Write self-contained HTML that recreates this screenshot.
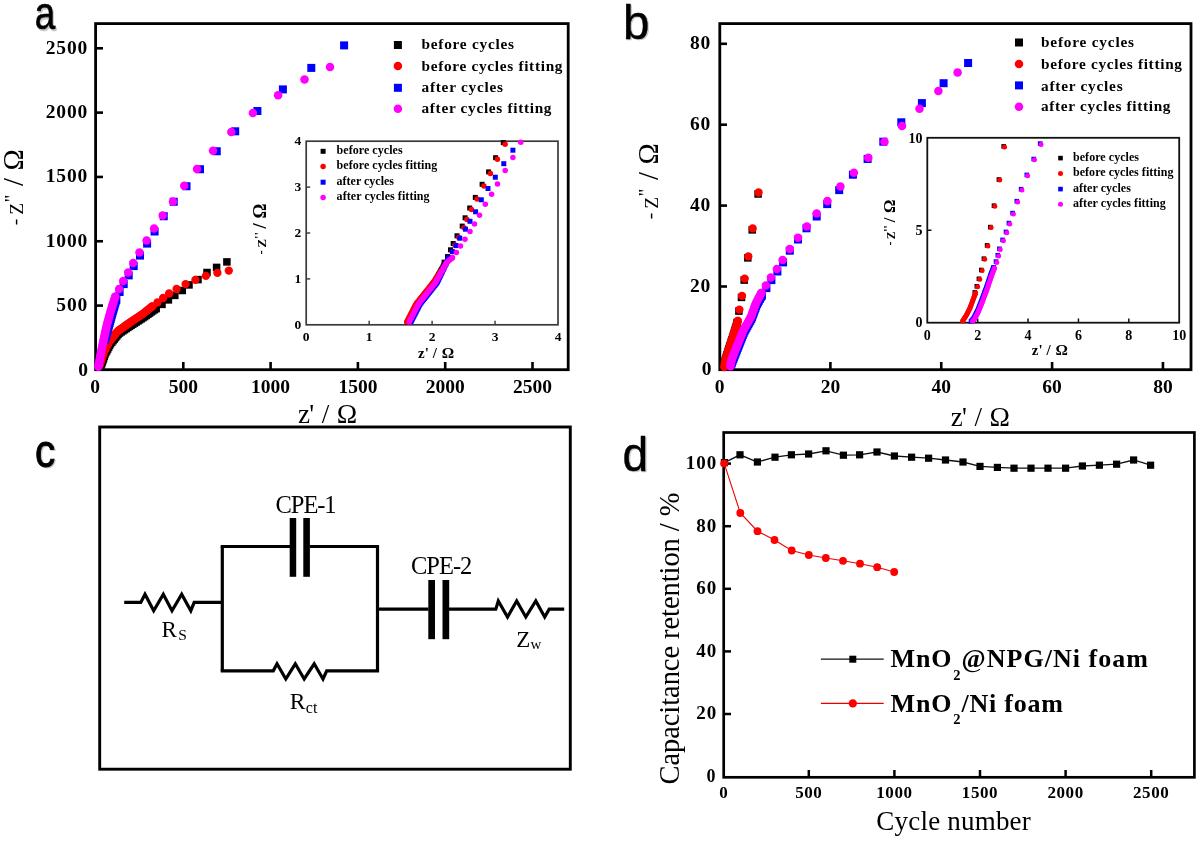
<!DOCTYPE html>
<html><head><meta charset="utf-8"><style>
html,body{margin:0;padding:0;background:#fff;}
svg{display:block;filter:blur(0.35px);}
</style></head><body>
<svg width="1200" height="842" viewBox="0 0 1200 842">
<rect width="1200" height="842" fill="#fff"/>
<rect x="95.6" y="23.6" width="472.6" height="346.09999999999997" fill="none" stroke="#000" stroke-width="2.8"/>
<line x1="183.3" y1="369.7" x2="183.3" y2="362" stroke="#000" stroke-width="2.6" stroke-linecap="butt"/>
<text x="183.3" y="393" font-size="19.5" font-family='"Liberation Serif", serif' font-weight="bold" text-anchor="middle" fill="#000" >500</text>
<line x1="95.6" y1="305.58" x2="103" y2="305.58" stroke="#000" stroke-width="2.6" stroke-linecap="butt"/>
<text x="88" y="311.08" font-size="19.5" font-family='"Liberation Serif", serif' font-weight="bold" text-anchor="end" fill="#000" letter-spacing="0.8">500</text>
<line x1="270.6" y1="369.7" x2="270.6" y2="362" stroke="#000" stroke-width="2.6" stroke-linecap="butt"/>
<text x="270.6" y="393" font-size="19.5" font-family='"Liberation Serif", serif' font-weight="bold" text-anchor="middle" fill="#000" >1000</text>
<line x1="95.6" y1="241.25999999999996" x2="103" y2="241.25999999999996" stroke="#000" stroke-width="2.6" stroke-linecap="butt"/>
<text x="88" y="246.75999999999996" font-size="19.5" font-family='"Liberation Serif", serif' font-weight="bold" text-anchor="end" fill="#000" letter-spacing="0.8">1000</text>
<line x1="357.90000000000003" y1="369.7" x2="357.90000000000003" y2="362" stroke="#000" stroke-width="2.6" stroke-linecap="butt"/>
<text x="357.90000000000003" y="393" font-size="19.5" font-family='"Liberation Serif", serif' font-weight="bold" text-anchor="middle" fill="#000" >1500</text>
<line x1="95.6" y1="176.93999999999997" x2="103" y2="176.93999999999997" stroke="#000" stroke-width="2.6" stroke-linecap="butt"/>
<text x="88" y="182.43999999999997" font-size="19.5" font-family='"Liberation Serif", serif' font-weight="bold" text-anchor="end" fill="#000" letter-spacing="0.8">1500</text>
<line x1="445.2" y1="369.7" x2="445.2" y2="362" stroke="#000" stroke-width="2.6" stroke-linecap="butt"/>
<text x="445.2" y="393" font-size="19.5" font-family='"Liberation Serif", serif' font-weight="bold" text-anchor="middle" fill="#000" >2000</text>
<line x1="95.6" y1="112.61999999999995" x2="103" y2="112.61999999999995" stroke="#000" stroke-width="2.6" stroke-linecap="butt"/>
<text x="88" y="118.11999999999995" font-size="19.5" font-family='"Liberation Serif", serif' font-weight="bold" text-anchor="end" fill="#000" letter-spacing="0.8">2000</text>
<line x1="532.5" y1="369.7" x2="532.5" y2="362" stroke="#000" stroke-width="2.6" stroke-linecap="butt"/>
<text x="532.5" y="393" font-size="19.5" font-family='"Liberation Serif", serif' font-weight="bold" text-anchor="middle" fill="#000" >2500</text>
<line x1="95.6" y1="48.299999999999955" x2="103" y2="48.299999999999955" stroke="#000" stroke-width="2.6" stroke-linecap="butt"/>
<text x="88" y="53.799999999999955" font-size="19.5" font-family='"Liberation Serif", serif' font-weight="bold" text-anchor="end" fill="#000" letter-spacing="0.8">2500</text>
<text x="95.0" y="393" font-size="19.5" font-family='"Liberation Serif", serif' font-weight="bold" text-anchor="middle" fill="#000" >0</text>
<text x="88" y="376.2" font-size="19.5" font-family='"Liberation Serif", serif' font-weight="bold" text-anchor="end" fill="#000" >0</text>
<text x="298" y="423" font-size="27" font-family='"Liberation Serif", serif' text-anchor="start" fill="#000" >z</text>
<text x="309.2" y="423" font-size="27" font-family='"Liberation Serif", serif' text-anchor="start" fill="#000" >'</text>
<text x="321.8" y="423" font-size="27" font-family='"Liberation Serif", serif' text-anchor="start" fill="#000" >/</text>
<text x="336.8" y="423" font-size="27.5" font-family='"Liberation Serif", serif' text-anchor="start" fill="#000" >Ω</text>
<g transform="translate(23.2,224.3) rotate(-90) scale(1.0)">
<text x="-1" y="-2" font-size="19.5" font-family='"Liberation Serif", serif' text-anchor="start" fill="#000" >-</text>
<text x="9.6" y="0" font-size="19.5" font-family='"Liberation Serif", serif' text-anchor="start" fill="#000" >Z</text>
<text x="22.4" y="-5.5" font-size="19.5" font-family='"Liberation Serif", serif' text-anchor="start" fill="#000" >''</text>
<text x="38.4" y="0" font-size="28.5" font-family='"Liberation Serif", serif' text-anchor="start" fill="#000" >/</text>
<text x="53.9" y="0" font-size="28.5" font-family='"Liberation Serif", serif' text-anchor="start" fill="#000" >Ω</text>
</g>
<rect x="223.15" y="258.15" width="7.5" height="7.5" fill="#000"/>
<rect x="212.85" y="263.65" width="7.5" height="7.5" fill="#000"/>
<rect x="203.25" y="268.75" width="7.5" height="7.5" fill="#000"/>
<rect x="194.25" y="275.85" width="7.5" height="7.5" fill="#000"/>
<rect x="185.25" y="281.15" width="7.5" height="7.5" fill="#000"/>
<rect x="178.55" y="286.75" width="7.5" height="7.5" fill="#000"/>
<rect x="171.05" y="291.65" width="7.5" height="7.5" fill="#000"/>
<rect x="164.65" y="296.15" width="7.5" height="7.5" fill="#000"/>
<rect x="158.25" y="300.65" width="7.5" height="7.5" fill="#000"/>
<rect x="152.25" y="304.75" width="7.5" height="7.5" fill="#000"/>
<rect x="152.25" y="304.75" width="7.5" height="7.5" fill="#000"/>
<rect x="150.62" y="305.91" width="7.5" height="7.5" fill="#000"/>
<rect x="148.99" y="307.06" width="7.5" height="7.5" fill="#000"/>
<rect x="147.35" y="308.22" width="7.5" height="7.5" fill="#000"/>
<rect x="145.72" y="309.37" width="7.5" height="7.5" fill="#000"/>
<rect x="144.09" y="310.53" width="7.5" height="7.5" fill="#000"/>
<rect x="142.46" y="311.69" width="7.5" height="7.5" fill="#000"/>
<rect x="140.83" y="312.84" width="7.5" height="7.5" fill="#000"/>
<rect x="139.16" y="313.95" width="7.5" height="7.5" fill="#000"/>
<rect x="137.48" y="315.03" width="7.5" height="7.5" fill="#000"/>
<rect x="135.79" y="316.10" width="7.5" height="7.5" fill="#000"/>
<rect x="134.11" y="317.18" width="7.5" height="7.5" fill="#000"/>
<rect x="132.42" y="318.26" width="7.5" height="7.5" fill="#000"/>
<rect x="130.74" y="319.34" width="7.5" height="7.5" fill="#000"/>
<rect x="129.05" y="320.42" width="7.5" height="7.5" fill="#000"/>
<rect x="127.37" y="321.50" width="7.5" height="7.5" fill="#000"/>
<rect x="125.71" y="322.61" width="7.5" height="7.5" fill="#000"/>
<rect x="124.05" y="323.73" width="7.5" height="7.5" fill="#000"/>
<rect x="122.39" y="324.84" width="7.5" height="7.5" fill="#000"/>
<rect x="120.72" y="325.95" width="7.5" height="7.5" fill="#000"/>
<rect x="119.06" y="327.06" width="7.5" height="7.5" fill="#000"/>
<rect x="117.40" y="328.18" width="7.5" height="7.5" fill="#000"/>
<rect x="115.74" y="329.29" width="7.5" height="7.5" fill="#000"/>
<rect x="114.31" y="330.66" width="7.5" height="7.5" fill="#000"/>
<rect x="113.05" y="332.22" width="7.5" height="7.5" fill="#000"/>
<rect x="111.80" y="333.77" width="7.5" height="7.5" fill="#000"/>
<rect x="110.54" y="335.32" width="7.5" height="7.5" fill="#000"/>
<rect x="109.28" y="336.88" width="7.5" height="7.5" fill="#000"/>
<rect x="108.02" y="338.43" width="7.5" height="7.5" fill="#000"/>
<rect x="106.76" y="339.99" width="7.5" height="7.5" fill="#000"/>
<rect x="105.77" y="341.72" width="7.5" height="7.5" fill="#000"/>
<rect x="104.83" y="343.49" width="7.5" height="7.5" fill="#000"/>
<rect x="103.90" y="345.25" width="7.5" height="7.5" fill="#000"/>
<rect x="102.96" y="347.02" width="7.5" height="7.5" fill="#000"/>
<rect x="102.03" y="348.79" width="7.5" height="7.5" fill="#000"/>
<rect x="101.14" y="350.58" width="7.5" height="7.5" fill="#000"/>
<rect x="100.51" y="352.47" width="7.5" height="7.5" fill="#000"/>
<rect x="99.88" y="354.37" width="7.5" height="7.5" fill="#000"/>
<rect x="99.24" y="356.27" width="7.5" height="7.5" fill="#000"/>
<rect x="98.61" y="358.17" width="7.5" height="7.5" fill="#000"/>
<rect x="97.91" y="360.04" width="7.5" height="7.5" fill="#000"/>
<rect x="97.12" y="361.88" width="7.5" height="7.5" fill="#000"/>
<circle cx="228.80" cy="270.60" r="4.15" fill="#ff0000"/>
<circle cx="217.40" cy="272.90" r="4.15" fill="#ff0000"/>
<circle cx="205.90" cy="275.90" r="4.15" fill="#ff0000"/>
<circle cx="195.40" cy="279.90" r="4.15" fill="#ff0000"/>
<circle cx="185.60" cy="284.10" r="4.15" fill="#ff0000"/>
<circle cx="176.60" cy="289.00" r="4.15" fill="#ff0000"/>
<circle cx="169.10" cy="293.50" r="4.15" fill="#ff0000"/>
<circle cx="163.10" cy="298.00" r="4.15" fill="#ff0000"/>
<circle cx="157.50" cy="302.50" r="4.15" fill="#ff0000"/>
<circle cx="152.30" cy="306.30" r="4.15" fill="#ff0000"/>
<circle cx="152.30" cy="306.30" r="4.15" fill="#ff0000"/>
<circle cx="150.89" cy="307.42" r="4.15" fill="#ff0000"/>
<circle cx="149.48" cy="308.54" r="4.15" fill="#ff0000"/>
<circle cx="148.08" cy="309.66" r="4.15" fill="#ff0000"/>
<circle cx="146.67" cy="310.78" r="4.15" fill="#ff0000"/>
<circle cx="145.26" cy="311.91" r="4.15" fill="#ff0000"/>
<circle cx="143.85" cy="313.03" r="4.15" fill="#ff0000"/>
<circle cx="142.44" cy="314.15" r="4.15" fill="#ff0000"/>
<circle cx="140.97" cy="315.18" r="4.15" fill="#ff0000"/>
<circle cx="139.48" cy="316.18" r="4.15" fill="#ff0000"/>
<circle cx="137.98" cy="317.18" r="4.15" fill="#ff0000"/>
<circle cx="136.48" cy="318.18" r="4.15" fill="#ff0000"/>
<circle cx="134.98" cy="319.18" r="4.15" fill="#ff0000"/>
<circle cx="133.48" cy="320.18" r="4.15" fill="#ff0000"/>
<circle cx="131.99" cy="321.18" r="4.15" fill="#ff0000"/>
<circle cx="130.49" cy="322.17" r="4.15" fill="#ff0000"/>
<circle cx="129.01" cy="323.20" r="4.15" fill="#ff0000"/>
<circle cx="127.53" cy="324.23" r="4.15" fill="#ff0000"/>
<circle cx="126.06" cy="325.26" r="4.15" fill="#ff0000"/>
<circle cx="124.59" cy="326.30" r="4.15" fill="#ff0000"/>
<circle cx="123.11" cy="327.33" r="4.15" fill="#ff0000"/>
<circle cx="121.64" cy="328.37" r="4.15" fill="#ff0000"/>
<circle cx="120.17" cy="329.40" r="4.15" fill="#ff0000"/>
<circle cx="118.69" cy="330.43" r="4.15" fill="#ff0000"/>
<circle cx="117.31" cy="331.56" r="4.15" fill="#ff0000"/>
<circle cx="116.19" cy="332.97" r="4.15" fill="#ff0000"/>
<circle cx="115.07" cy="334.38" r="4.15" fill="#ff0000"/>
<circle cx="113.95" cy="335.79" r="4.15" fill="#ff0000"/>
<circle cx="112.83" cy="337.20" r="4.15" fill="#ff0000"/>
<circle cx="111.71" cy="338.61" r="4.15" fill="#ff0000"/>
<circle cx="110.59" cy="340.02" r="4.15" fill="#ff0000"/>
<circle cx="109.47" cy="341.43" r="4.15" fill="#ff0000"/>
<circle cx="108.56" cy="342.97" r="4.15" fill="#ff0000"/>
<circle cx="107.75" cy="344.58" r="4.15" fill="#ff0000"/>
<circle cx="106.94" cy="346.18" r="4.15" fill="#ff0000"/>
<circle cx="106.13" cy="347.79" r="4.15" fill="#ff0000"/>
<circle cx="105.31" cy="349.40" r="4.15" fill="#ff0000"/>
<circle cx="104.50" cy="351.00" r="4.15" fill="#ff0000"/>
<circle cx="103.78" cy="352.65" r="4.15" fill="#ff0000"/>
<circle cx="103.21" cy="354.36" r="4.15" fill="#ff0000"/>
<circle cx="102.65" cy="356.06" r="4.15" fill="#ff0000"/>
<circle cx="102.08" cy="357.77" r="4.15" fill="#ff0000"/>
<circle cx="101.51" cy="359.48" r="4.15" fill="#ff0000"/>
<circle cx="100.94" cy="361.19" r="4.15" fill="#ff0000"/>
<circle cx="100.43" cy="362.91" r="4.15" fill="#ff0000"/>
<circle cx="99.91" cy="364.64" r="4.15" fill="#ff0000"/>
<rect x="340.10" y="41.40" width="8" height="8" fill="#0000ff"/>
<rect x="307.30" y="63.90" width="8" height="8" fill="#0000ff"/>
<rect x="278.90" y="85.40" width="8" height="8" fill="#0000ff"/>
<rect x="253.40" y="107.00" width="8" height="8" fill="#0000ff"/>
<rect x="231.20" y="127.30" width="8" height="8" fill="#0000ff"/>
<rect x="212.75" y="147.25" width="8" height="8" fill="#0000ff"/>
<rect x="196.00" y="165.25" width="8" height="8" fill="#0000ff"/>
<rect x="182.50" y="182.25" width="8" height="8" fill="#0000ff"/>
<rect x="169.75" y="197.75" width="8" height="8" fill="#0000ff"/>
<rect x="159.75" y="212.25" width="8" height="8" fill="#0000ff"/>
<rect x="150.60" y="227.50" width="8" height="8" fill="#0000ff"/>
<rect x="143.10" y="239.60" width="8" height="8" fill="#0000ff"/>
<rect x="136.00" y="251.60" width="8" height="8" fill="#0000ff"/>
<rect x="129.70" y="262.10" width="8" height="8" fill="#0000ff"/>
<rect x="124.70" y="271.40" width="8" height="8" fill="#0000ff"/>
<rect x="119.70" y="280.10" width="8" height="8" fill="#0000ff"/>
<rect x="115.60" y="288.00" width="8" height="8" fill="#0000ff"/>
<rect x="112.20" y="295.70" width="8" height="8" fill="#0000ff"/>
<rect x="112.20" y="295.70" width="8" height="8" fill="#0000ff"/>
<rect x="111.64" y="297.62" width="8" height="8" fill="#0000ff"/>
<rect x="111.07" y="299.54" width="8" height="8" fill="#0000ff"/>
<rect x="110.51" y="301.46" width="8" height="8" fill="#0000ff"/>
<rect x="109.95" y="303.38" width="8" height="8" fill="#0000ff"/>
<rect x="109.39" y="305.30" width="8" height="8" fill="#0000ff"/>
<rect x="108.82" y="307.22" width="8" height="8" fill="#0000ff"/>
<rect x="108.26" y="309.14" width="8" height="8" fill="#0000ff"/>
<rect x="107.74" y="311.06" width="8" height="8" fill="#0000ff"/>
<rect x="107.21" y="312.99" width="8" height="8" fill="#0000ff"/>
<rect x="106.68" y="314.92" width="8" height="8" fill="#0000ff"/>
<rect x="106.15" y="316.85" width="8" height="8" fill="#0000ff"/>
<rect x="105.63" y="318.78" width="8" height="8" fill="#0000ff"/>
<rect x="105.10" y="320.71" width="8" height="8" fill="#0000ff"/>
<rect x="104.57" y="322.64" width="8" height="8" fill="#0000ff"/>
<rect x="104.04" y="324.57" width="8" height="8" fill="#0000ff"/>
<rect x="103.49" y="326.49" width="8" height="8" fill="#0000ff"/>
<rect x="102.94" y="328.41" width="8" height="8" fill="#0000ff"/>
<rect x="102.40" y="330.34" width="8" height="8" fill="#0000ff"/>
<rect x="101.85" y="332.26" width="8" height="8" fill="#0000ff"/>
<rect x="101.30" y="334.19" width="8" height="8" fill="#0000ff"/>
<rect x="100.75" y="336.11" width="8" height="8" fill="#0000ff"/>
<circle cx="330.00" cy="67.00" r="4.25" fill="#ff00ff"/>
<circle cx="304.50" cy="79.60" r="4.25" fill="#ff00ff"/>
<circle cx="278.10" cy="95.30" r="4.25" fill="#ff00ff"/>
<circle cx="252.90" cy="113.00" r="4.25" fill="#ff00ff"/>
<circle cx="231.30" cy="132.00" r="4.25" fill="#ff00ff"/>
<circle cx="213.00" cy="150.75" r="4.25" fill="#ff00ff"/>
<circle cx="197.00" cy="169.00" r="4.25" fill="#ff00ff"/>
<circle cx="184.25" cy="185.75" r="4.25" fill="#ff00ff"/>
<circle cx="173.00" cy="201.50" r="4.25" fill="#ff00ff"/>
<circle cx="162.70" cy="215.40" r="4.25" fill="#ff00ff"/>
<circle cx="154.10" cy="228.50" r="4.25" fill="#ff00ff"/>
<circle cx="146.60" cy="240.60" r="4.25" fill="#ff00ff"/>
<circle cx="139.50" cy="252.60" r="4.25" fill="#ff00ff"/>
<circle cx="133.20" cy="263.10" r="4.25" fill="#ff00ff"/>
<circle cx="128.20" cy="272.40" r="4.25" fill="#ff00ff"/>
<circle cx="123.20" cy="281.10" r="4.25" fill="#ff00ff"/>
<circle cx="119.10" cy="289.00" r="4.25" fill="#ff00ff"/>
<circle cx="115.20" cy="296.70" r="4.25" fill="#ff00ff"/>
<circle cx="115.20" cy="296.70" r="4.25" fill="#ff00ff"/>
<circle cx="114.60" cy="298.61" r="4.25" fill="#ff00ff"/>
<circle cx="114.00" cy="300.51" r="4.25" fill="#ff00ff"/>
<circle cx="113.39" cy="302.42" r="4.25" fill="#ff00ff"/>
<circle cx="112.79" cy="304.33" r="4.25" fill="#ff00ff"/>
<circle cx="112.19" cy="306.24" r="4.25" fill="#ff00ff"/>
<circle cx="111.59" cy="308.14" r="4.25" fill="#ff00ff"/>
<circle cx="110.99" cy="310.05" r="4.25" fill="#ff00ff"/>
<circle cx="110.45" cy="311.98" r="4.25" fill="#ff00ff"/>
<circle cx="109.92" cy="313.91" r="4.25" fill="#ff00ff"/>
<circle cx="109.39" cy="315.83" r="4.25" fill="#ff00ff"/>
<circle cx="108.86" cy="317.76" r="4.25" fill="#ff00ff"/>
<circle cx="108.33" cy="319.69" r="4.25" fill="#ff00ff"/>
<circle cx="107.80" cy="321.62" r="4.25" fill="#ff00ff"/>
<circle cx="107.27" cy="323.55" r="4.25" fill="#ff00ff"/>
<circle cx="106.73" cy="325.48" r="4.25" fill="#ff00ff"/>
<circle cx="106.31" cy="327.43" r="4.25" fill="#ff00ff"/>
<circle cx="105.89" cy="329.39" r="4.25" fill="#ff00ff"/>
<circle cx="105.47" cy="331.34" r="4.25" fill="#ff00ff"/>
<circle cx="105.05" cy="333.30" r="4.25" fill="#ff00ff"/>
<circle cx="104.63" cy="335.25" r="4.25" fill="#ff00ff"/>
<circle cx="104.22" cy="337.21" r="4.25" fill="#ff00ff"/>
<circle cx="103.80" cy="339.16" r="4.25" fill="#ff00ff"/>
<circle cx="103.38" cy="341.12" r="4.25" fill="#ff00ff"/>
<circle cx="102.96" cy="343.08" r="4.25" fill="#ff00ff"/>
<circle cx="102.54" cy="345.03" r="4.25" fill="#ff00ff"/>
<circle cx="102.12" cy="346.99" r="4.25" fill="#ff00ff"/>
<circle cx="101.70" cy="348.94" r="4.25" fill="#ff00ff"/>
<circle cx="101.29" cy="350.90" r="4.25" fill="#ff00ff"/>
<circle cx="100.92" cy="352.86" r="4.25" fill="#ff00ff"/>
<circle cx="100.56" cy="354.83" r="4.25" fill="#ff00ff"/>
<circle cx="100.20" cy="356.80" r="4.25" fill="#ff00ff"/>
<circle cx="99.84" cy="358.77" r="4.25" fill="#ff00ff"/>
<circle cx="99.48" cy="360.73" r="4.25" fill="#ff00ff"/>
<circle cx="99.13" cy="362.70" r="4.25" fill="#ff00ff"/>
<circle cx="98.77" cy="364.67" r="4.25" fill="#ff00ff"/>
<circle cx="98.37" cy="366.63" r="4.25" fill="#ff00ff"/>
<rect x="393.90" y="41.00" width="8" height="8" fill="#000"/>
<text x="421.5" y="49.4" font-size="15.3" font-family='"Liberation Serif", serif' font-weight="bold" text-anchor="start" fill="#000" textLength="92.5" lengthAdjust="spacing" >before cycles</text>
<circle cx="397.90" cy="66.10" r="4.25" fill="#ff0000"/>
<text x="421.5" y="70.5" font-size="15.3" font-family='"Liberation Serif", serif' font-weight="bold" text-anchor="start" fill="#000" textLength="141" lengthAdjust="spacing" >before cycles fitting</text>
<rect x="393.90" y="83.80" width="8" height="8" fill="#0000ff"/>
<text x="421.5" y="92.1" font-size="15.3" font-family='"Liberation Serif", serif' font-weight="bold" text-anchor="start" fill="#000" textLength="81.5" lengthAdjust="spacing" >after cycles</text>
<circle cx="397.90" cy="108.70" r="4.25" fill="#ff00ff"/>
<text x="421.5" y="113.2" font-size="15.3" font-family='"Liberation Serif", serif' font-weight="bold" text-anchor="start" fill="#000" textLength="130" lengthAdjust="spacing" >after cycles fitting</text>
<rect x="306.2" y="141.2" width="251.8" height="183.6" fill="#fff" stroke="#3a3a3a" stroke-width="1.7"/>
<line x1="369.15" y1="324.8" x2="369.15" y2="320.8" stroke="#333" stroke-width="1.4" stroke-linecap="butt"/>
<line x1="306.2" y1="278.90000000000003" x2="310.2" y2="278.90000000000003" stroke="#333" stroke-width="1.4" stroke-linecap="butt"/>
<line x1="432.1" y1="324.8" x2="432.1" y2="320.8" stroke="#333" stroke-width="1.4" stroke-linecap="butt"/>
<line x1="306.2" y1="233.0" x2="310.2" y2="233.0" stroke="#333" stroke-width="1.4" stroke-linecap="butt"/>
<line x1="495.05" y1="324.8" x2="495.05" y2="320.8" stroke="#333" stroke-width="1.4" stroke-linecap="butt"/>
<line x1="306.2" y1="187.10000000000002" x2="310.2" y2="187.10000000000002" stroke="#333" stroke-width="1.4" stroke-linecap="butt"/>
<text x="306.2" y="341.3" font-size="13.5" font-family='"Liberation Serif", serif' font-weight="bold" text-anchor="middle" fill="#000" >0</text>
<text x="301.2" y="329.0" font-size="13.5" font-family='"Liberation Serif", serif' font-weight="bold" text-anchor="end" fill="#000" >0</text>
<text x="369.15" y="341.3" font-size="13.5" font-family='"Liberation Serif", serif' font-weight="bold" text-anchor="middle" fill="#000" >1</text>
<text x="301.2" y="283.1" font-size="13.5" font-family='"Liberation Serif", serif' font-weight="bold" text-anchor="end" fill="#000" >1</text>
<text x="432.1" y="341.3" font-size="13.5" font-family='"Liberation Serif", serif' font-weight="bold" text-anchor="middle" fill="#000" >2</text>
<text x="301.2" y="237.2" font-size="13.5" font-family='"Liberation Serif", serif' font-weight="bold" text-anchor="end" fill="#000" >2</text>
<text x="495.05" y="341.3" font-size="13.5" font-family='"Liberation Serif", serif' font-weight="bold" text-anchor="middle" fill="#000" >3</text>
<text x="301.2" y="191.3" font-size="13.5" font-family='"Liberation Serif", serif' font-weight="bold" text-anchor="end" fill="#000" >3</text>
<text x="558.0" y="341.3" font-size="13.5" font-family='"Liberation Serif", serif' font-weight="bold" text-anchor="middle" fill="#000" >4</text>
<text x="301.2" y="145.4" font-size="13.5" font-family='"Liberation Serif", serif' font-weight="bold" text-anchor="end" fill="#000" >4</text>
<text x="418" y="358.2" font-size="15" font-family='"Liberation Serif", serif' font-weight="bold" text-anchor="start" fill="#000" >z</text>
<text x="424.8" y="358.2" font-size="15" font-family='"Liberation Serif", serif' font-weight="bold" text-anchor="start" fill="#000" >'</text>
<text x="432.8" y="358.2" font-size="15" font-family='"Liberation Serif", serif' font-weight="bold" text-anchor="start" fill="#000" >/</text>
<text x="441.8" y="358.2" font-size="15.5" font-family='"Liberation Serif", serif' font-weight="bold" text-anchor="start" fill="#000" >Ω</text>
<g transform="translate(266.2,253.8) rotate(-90) scale(0.656)">
<text x="-1" y="-2" font-size="19.5" font-family='"Liberation Serif", serif' font-weight="bold" text-anchor="start" fill="#000" >-</text>
<text x="9.6" y="0" font-size="19.5" font-family='"Liberation Serif", serif' font-weight="bold" text-anchor="start" fill="#000" >Z</text>
<text x="22.4" y="-5.5" font-size="19.5" font-family='"Liberation Serif", serif' font-weight="bold" text-anchor="start" fill="#000" >''</text>
<text x="38.4" y="0" font-size="28.5" font-family='"Liberation Serif", serif' font-weight="bold" text-anchor="start" fill="#000" >/</text>
<text x="53.9" y="0" font-size="28.5" font-family='"Liberation Serif", serif' font-weight="bold" text-anchor="start" fill="#000" >Ω</text>
</g>
<rect x="500.80" y="140.10" width="5" height="5" fill="#000"/>
<rect x="493.10" y="155.20" width="5" height="5" fill="#000"/>
<rect x="486.10" y="169.40" width="5" height="5" fill="#000"/>
<rect x="479.60" y="181.80" width="5" height="5" fill="#000"/>
<rect x="472.80" y="194.90" width="5" height="5" fill="#000"/>
<rect x="467.20" y="205.50" width="5" height="5" fill="#000"/>
<rect x="462.60" y="215.30" width="5" height="5" fill="#000"/>
<rect x="459.70" y="223.60" width="5" height="5" fill="#000"/>
<rect x="454.50" y="233.30" width="5" height="5" fill="#000"/>
<rect x="450.70" y="241.00" width="5" height="5" fill="#000"/>
<rect x="448.00" y="247.30" width="5" height="5" fill="#000"/>
<rect x="445.00" y="254.10" width="5" height="5" fill="#000"/>
<rect x="441.60" y="259.70" width="5" height="5" fill="#000"/>
<rect x="442.60" y="260.50" width="5" height="5" fill="#000"/>
<rect x="441.86" y="261.81" width="5" height="5" fill="#000"/>
<rect x="441.13" y="263.11" width="5" height="5" fill="#000"/>
<rect x="440.39" y="264.42" width="5" height="5" fill="#000"/>
<rect x="439.65" y="265.73" width="5" height="5" fill="#000"/>
<rect x="438.92" y="267.03" width="5" height="5" fill="#000"/>
<rect x="438.18" y="268.34" width="5" height="5" fill="#000"/>
<rect x="437.45" y="269.65" width="5" height="5" fill="#000"/>
<rect x="436.71" y="270.95" width="5" height="5" fill="#000"/>
<rect x="435.97" y="272.26" width="5" height="5" fill="#000"/>
<rect x="435.24" y="273.57" width="5" height="5" fill="#000"/>
<rect x="434.50" y="274.88" width="5" height="5" fill="#000"/>
<rect x="433.76" y="276.18" width="5" height="5" fill="#000"/>
<rect x="433.03" y="277.49" width="5" height="5" fill="#000"/>
<rect x="432.29" y="278.80" width="5" height="5" fill="#000"/>
<rect x="431.55" y="280.10" width="5" height="5" fill="#000"/>
<rect x="430.63" y="281.28" width="5" height="5" fill="#000"/>
<rect x="429.70" y="282.46" width="5" height="5" fill="#000"/>
<rect x="428.76" y="283.63" width="5" height="5" fill="#000"/>
<rect x="427.83" y="284.80" width="5" height="5" fill="#000"/>
<rect x="426.89" y="285.97" width="5" height="5" fill="#000"/>
<rect x="425.96" y="287.15" width="5" height="5" fill="#000"/>
<rect x="425.02" y="288.32" width="5" height="5" fill="#000"/>
<rect x="424.08" y="289.49" width="5" height="5" fill="#000"/>
<rect x="423.15" y="290.66" width="5" height="5" fill="#000"/>
<rect x="422.21" y="291.84" width="5" height="5" fill="#000"/>
<rect x="421.28" y="293.01" width="5" height="5" fill="#000"/>
<rect x="420.34" y="294.18" width="5" height="5" fill="#000"/>
<rect x="419.41" y="295.35" width="5" height="5" fill="#000"/>
<rect x="418.47" y="296.53" width="5" height="5" fill="#000"/>
<rect x="417.53" y="297.70" width="5" height="5" fill="#000"/>
<rect x="416.60" y="298.87" width="5" height="5" fill="#000"/>
<rect x="415.66" y="300.04" width="5" height="5" fill="#000"/>
<rect x="414.73" y="301.22" width="5" height="5" fill="#000"/>
<rect x="413.98" y="302.51" width="5" height="5" fill="#000"/>
<rect x="413.30" y="303.84" width="5" height="5" fill="#000"/>
<rect x="412.61" y="305.18" width="5" height="5" fill="#000"/>
<rect x="411.93" y="306.51" width="5" height="5" fill="#000"/>
<rect x="411.24" y="307.85" width="5" height="5" fill="#000"/>
<rect x="410.56" y="309.18" width="5" height="5" fill="#000"/>
<rect x="409.87" y="310.52" width="5" height="5" fill="#000"/>
<rect x="409.18" y="311.85" width="5" height="5" fill="#000"/>
<rect x="408.50" y="313.19" width="5" height="5" fill="#000"/>
<rect x="407.81" y="314.52" width="5" height="5" fill="#000"/>
<rect x="407.13" y="315.85" width="5" height="5" fill="#000"/>
<rect x="406.44" y="317.19" width="5" height="5" fill="#000"/>
<rect x="405.76" y="318.52" width="5" height="5" fill="#000"/>
<rect x="405.07" y="319.86" width="5" height="5" fill="#000"/>
<circle cx="505.10" cy="144.20" r="2.75" fill="#ff0000"/>
<circle cx="497.40" cy="159.30" r="2.75" fill="#ff0000"/>
<circle cx="490.40" cy="173.50" r="2.75" fill="#ff0000"/>
<circle cx="483.90" cy="185.90" r="2.75" fill="#ff0000"/>
<circle cx="477.10" cy="199.00" r="2.75" fill="#ff0000"/>
<circle cx="471.50" cy="209.60" r="2.75" fill="#ff0000"/>
<circle cx="466.90" cy="219.40" r="2.75" fill="#ff0000"/>
<circle cx="464.00" cy="227.70" r="2.75" fill="#ff0000"/>
<circle cx="458.80" cy="237.40" r="2.75" fill="#ff0000"/>
<circle cx="455.00" cy="245.10" r="2.75" fill="#ff0000"/>
<circle cx="452.30" cy="251.40" r="2.75" fill="#ff0000"/>
<circle cx="449.30" cy="258.20" r="2.75" fill="#ff0000"/>
<circle cx="445.90" cy="263.80" r="2.75" fill="#ff0000"/>
<circle cx="445.90" cy="263.80" r="2.75" fill="#ff0000"/>
<circle cx="445.05" cy="265.04" r="2.75" fill="#ff0000"/>
<circle cx="444.21" cy="266.28" r="2.75" fill="#ff0000"/>
<circle cx="443.36" cy="267.52" r="2.75" fill="#ff0000"/>
<circle cx="442.52" cy="268.76" r="2.75" fill="#ff0000"/>
<circle cx="441.67" cy="269.99" r="2.75" fill="#ff0000"/>
<circle cx="440.83" cy="271.23" r="2.75" fill="#ff0000"/>
<circle cx="439.98" cy="272.47" r="2.75" fill="#ff0000"/>
<circle cx="439.14" cy="273.71" r="2.75" fill="#ff0000"/>
<circle cx="438.29" cy="274.95" r="2.75" fill="#ff0000"/>
<circle cx="437.44" cy="276.19" r="2.75" fill="#ff0000"/>
<circle cx="436.60" cy="277.43" r="2.75" fill="#ff0000"/>
<circle cx="435.75" cy="278.67" r="2.75" fill="#ff0000"/>
<circle cx="434.91" cy="279.91" r="2.75" fill="#ff0000"/>
<circle cx="434.06" cy="281.14" r="2.75" fill="#ff0000"/>
<circle cx="433.22" cy="282.38" r="2.75" fill="#ff0000"/>
<circle cx="432.30" cy="283.57" r="2.75" fill="#ff0000"/>
<circle cx="431.37" cy="284.75" r="2.75" fill="#ff0000"/>
<circle cx="430.43" cy="285.92" r="2.75" fill="#ff0000"/>
<circle cx="429.50" cy="287.09" r="2.75" fill="#ff0000"/>
<circle cx="428.56" cy="288.26" r="2.75" fill="#ff0000"/>
<circle cx="427.62" cy="289.44" r="2.75" fill="#ff0000"/>
<circle cx="426.69" cy="290.61" r="2.75" fill="#ff0000"/>
<circle cx="425.75" cy="291.78" r="2.75" fill="#ff0000"/>
<circle cx="424.82" cy="292.95" r="2.75" fill="#ff0000"/>
<circle cx="423.88" cy="294.12" r="2.75" fill="#ff0000"/>
<circle cx="422.95" cy="295.30" r="2.75" fill="#ff0000"/>
<circle cx="422.01" cy="296.47" r="2.75" fill="#ff0000"/>
<circle cx="421.07" cy="297.64" r="2.75" fill="#ff0000"/>
<circle cx="420.14" cy="298.81" r="2.75" fill="#ff0000"/>
<circle cx="419.20" cy="299.99" r="2.75" fill="#ff0000"/>
<circle cx="418.27" cy="301.16" r="2.75" fill="#ff0000"/>
<circle cx="417.33" cy="302.33" r="2.75" fill="#ff0000"/>
<circle cx="416.40" cy="303.50" r="2.75" fill="#ff0000"/>
<circle cx="415.60" cy="304.77" r="2.75" fill="#ff0000"/>
<circle cx="414.92" cy="306.10" r="2.75" fill="#ff0000"/>
<circle cx="414.23" cy="307.44" r="2.75" fill="#ff0000"/>
<circle cx="413.55" cy="308.77" r="2.75" fill="#ff0000"/>
<circle cx="412.86" cy="310.11" r="2.75" fill="#ff0000"/>
<circle cx="412.18" cy="311.44" r="2.75" fill="#ff0000"/>
<circle cx="411.49" cy="312.78" r="2.75" fill="#ff0000"/>
<circle cx="410.81" cy="314.11" r="2.75" fill="#ff0000"/>
<circle cx="410.12" cy="315.44" r="2.75" fill="#ff0000"/>
<circle cx="409.44" cy="316.78" r="2.75" fill="#ff0000"/>
<circle cx="408.75" cy="318.11" r="2.75" fill="#ff0000"/>
<circle cx="408.07" cy="319.45" r="2.75" fill="#ff0000"/>
<circle cx="407.38" cy="320.78" r="2.75" fill="#ff0000"/>
<circle cx="406.70" cy="322.12" r="2.75" fill="#ff0000"/>
<rect x="510.40" y="147.70" width="5" height="5" fill="#0000ff"/>
<rect x="501.30" y="161.20" width="5" height="5" fill="#0000ff"/>
<rect x="492.80" y="174.70" width="5" height="5" fill="#0000ff"/>
<rect x="485.50" y="186.00" width="5" height="5" fill="#0000ff"/>
<rect x="478.80" y="197.30" width="5" height="5" fill="#0000ff"/>
<rect x="473.10" y="209.30" width="5" height="5" fill="#0000ff"/>
<rect x="467.50" y="218.80" width="5" height="5" fill="#0000ff"/>
<rect x="463.00" y="226.70" width="5" height="5" fill="#0000ff"/>
<rect x="457.30" y="235.70" width="5" height="5" fill="#0000ff"/>
<rect x="453.50" y="243.10" width="5" height="5" fill="#0000ff"/>
<rect x="449.90" y="249.20" width="5" height="5" fill="#0000ff"/>
<rect x="446.50" y="255.00" width="5" height="5" fill="#0000ff"/>
<rect x="446.50" y="255.00" width="5" height="5" fill="#0000ff"/>
<rect x="445.86" y="256.35" width="5" height="5" fill="#0000ff"/>
<rect x="445.21" y="257.71" width="5" height="5" fill="#0000ff"/>
<rect x="444.57" y="259.06" width="5" height="5" fill="#0000ff"/>
<rect x="443.92" y="260.42" width="5" height="5" fill="#0000ff"/>
<rect x="443.28" y="261.77" width="5" height="5" fill="#0000ff"/>
<rect x="442.63" y="263.13" width="5" height="5" fill="#0000ff"/>
<rect x="441.99" y="264.48" width="5" height="5" fill="#0000ff"/>
<rect x="441.34" y="265.83" width="5" height="5" fill="#0000ff"/>
<rect x="440.70" y="267.19" width="5" height="5" fill="#0000ff"/>
<rect x="440.05" y="268.54" width="5" height="5" fill="#0000ff"/>
<rect x="439.41" y="269.90" width="5" height="5" fill="#0000ff"/>
<rect x="438.76" y="271.25" width="5" height="5" fill="#0000ff"/>
<rect x="438.12" y="272.61" width="5" height="5" fill="#0000ff"/>
<rect x="437.47" y="273.96" width="5" height="5" fill="#0000ff"/>
<rect x="436.83" y="275.31" width="5" height="5" fill="#0000ff"/>
<rect x="436.18" y="276.67" width="5" height="5" fill="#0000ff"/>
<rect x="435.54" y="278.02" width="5" height="5" fill="#0000ff"/>
<rect x="434.89" y="279.38" width="5" height="5" fill="#0000ff"/>
<rect x="434.13" y="280.66" width="5" height="5" fill="#0000ff"/>
<rect x="433.20" y="281.83" width="5" height="5" fill="#0000ff"/>
<rect x="432.26" y="283.00" width="5" height="5" fill="#0000ff"/>
<rect x="431.33" y="284.18" width="5" height="5" fill="#0000ff"/>
<rect x="430.39" y="285.35" width="5" height="5" fill="#0000ff"/>
<rect x="429.45" y="286.52" width="5" height="5" fill="#0000ff"/>
<rect x="428.52" y="287.69" width="5" height="5" fill="#0000ff"/>
<rect x="427.58" y="288.87" width="5" height="5" fill="#0000ff"/>
<rect x="426.65" y="290.04" width="5" height="5" fill="#0000ff"/>
<rect x="425.71" y="291.21" width="5" height="5" fill="#0000ff"/>
<rect x="424.78" y="292.38" width="5" height="5" fill="#0000ff"/>
<rect x="423.84" y="293.56" width="5" height="5" fill="#0000ff"/>
<rect x="422.90" y="294.73" width="5" height="5" fill="#0000ff"/>
<rect x="421.97" y="295.90" width="5" height="5" fill="#0000ff"/>
<rect x="421.03" y="297.07" width="5" height="5" fill="#0000ff"/>
<rect x="420.10" y="298.25" width="5" height="5" fill="#0000ff"/>
<rect x="419.16" y="299.42" width="5" height="5" fill="#0000ff"/>
<rect x="418.23" y="300.59" width="5" height="5" fill="#0000ff"/>
<rect x="417.35" y="301.80" width="5" height="5" fill="#0000ff"/>
<rect x="416.66" y="303.13" width="5" height="5" fill="#0000ff"/>
<rect x="415.98" y="304.47" width="5" height="5" fill="#0000ff"/>
<rect x="415.29" y="305.80" width="5" height="5" fill="#0000ff"/>
<rect x="414.61" y="307.14" width="5" height="5" fill="#0000ff"/>
<rect x="413.92" y="308.47" width="5" height="5" fill="#0000ff"/>
<rect x="413.24" y="309.81" width="5" height="5" fill="#0000ff"/>
<rect x="412.55" y="311.14" width="5" height="5" fill="#0000ff"/>
<rect x="411.86" y="312.47" width="5" height="5" fill="#0000ff"/>
<rect x="411.18" y="313.81" width="5" height="5" fill="#0000ff"/>
<rect x="410.49" y="315.14" width="5" height="5" fill="#0000ff"/>
<rect x="409.81" y="316.48" width="5" height="5" fill="#0000ff"/>
<rect x="409.12" y="317.81" width="5" height="5" fill="#0000ff"/>
<rect x="408.44" y="319.15" width="5" height="5" fill="#0000ff"/>
<circle cx="520.80" cy="142.30" r="2.75" fill="#ff00ff"/>
<circle cx="512.90" cy="157.60" r="2.75" fill="#ff00ff"/>
<circle cx="505.20" cy="170.50" r="2.75" fill="#ff00ff"/>
<circle cx="497.50" cy="184.00" r="2.75" fill="#ff00ff"/>
<circle cx="491.60" cy="194.20" r="2.75" fill="#ff00ff"/>
<circle cx="485.30" cy="204.30" r="2.75" fill="#ff00ff"/>
<circle cx="479.50" cy="215.20" r="2.75" fill="#ff00ff"/>
<circle cx="474.50" cy="224.00" r="2.75" fill="#ff00ff"/>
<circle cx="470.00" cy="231.40" r="2.75" fill="#ff00ff"/>
<circle cx="465.00" cy="239.30" r="2.75" fill="#ff00ff"/>
<circle cx="460.50" cy="246.10" r="2.75" fill="#ff00ff"/>
<circle cx="456.40" cy="252.40" r="2.75" fill="#ff00ff"/>
<circle cx="452.40" cy="257.80" r="2.75" fill="#ff00ff"/>
<circle cx="452.40" cy="257.80" r="2.75" fill="#ff00ff"/>
<circle cx="451.22" cy="258.72" r="2.75" fill="#ff00ff"/>
<circle cx="450.03" cy="259.64" r="2.75" fill="#ff00ff"/>
<circle cx="448.85" cy="260.56" r="2.75" fill="#ff00ff"/>
<circle cx="447.66" cy="261.48" r="2.75" fill="#ff00ff"/>
<circle cx="446.68" cy="262.58" r="2.75" fill="#ff00ff"/>
<circle cx="445.95" cy="263.89" r="2.75" fill="#ff00ff"/>
<circle cx="445.22" cy="265.20" r="2.75" fill="#ff00ff"/>
<circle cx="444.49" cy="266.51" r="2.75" fill="#ff00ff"/>
<circle cx="443.77" cy="267.82" r="2.75" fill="#ff00ff"/>
<circle cx="443.04" cy="269.13" r="2.75" fill="#ff00ff"/>
<circle cx="442.31" cy="270.44" r="2.75" fill="#ff00ff"/>
<circle cx="441.58" cy="271.75" r="2.75" fill="#ff00ff"/>
<circle cx="440.85" cy="273.07" r="2.75" fill="#ff00ff"/>
<circle cx="440.12" cy="274.38" r="2.75" fill="#ff00ff"/>
<circle cx="439.40" cy="275.69" r="2.75" fill="#ff00ff"/>
<circle cx="438.67" cy="277.00" r="2.75" fill="#ff00ff"/>
<circle cx="437.94" cy="278.31" r="2.75" fill="#ff00ff"/>
<circle cx="437.21" cy="279.62" r="2.75" fill="#ff00ff"/>
<circle cx="436.48" cy="280.93" r="2.75" fill="#ff00ff"/>
<circle cx="435.75" cy="282.24" r="2.75" fill="#ff00ff"/>
<circle cx="434.89" cy="283.47" r="2.75" fill="#ff00ff"/>
<circle cx="433.95" cy="284.64" r="2.75" fill="#ff00ff"/>
<circle cx="433.02" cy="285.81" r="2.75" fill="#ff00ff"/>
<circle cx="432.08" cy="286.98" r="2.75" fill="#ff00ff"/>
<circle cx="431.15" cy="288.15" r="2.75" fill="#ff00ff"/>
<circle cx="430.21" cy="289.33" r="2.75" fill="#ff00ff"/>
<circle cx="429.28" cy="290.50" r="2.75" fill="#ff00ff"/>
<circle cx="428.34" cy="291.67" r="2.75" fill="#ff00ff"/>
<circle cx="427.40" cy="292.84" r="2.75" fill="#ff00ff"/>
<circle cx="426.47" cy="294.02" r="2.75" fill="#ff00ff"/>
<circle cx="425.53" cy="295.19" r="2.75" fill="#ff00ff"/>
<circle cx="424.60" cy="296.36" r="2.75" fill="#ff00ff"/>
<circle cx="423.66" cy="297.53" r="2.75" fill="#ff00ff"/>
<circle cx="422.73" cy="298.71" r="2.75" fill="#ff00ff"/>
<circle cx="421.79" cy="299.88" r="2.75" fill="#ff00ff"/>
<circle cx="420.85" cy="301.05" r="2.75" fill="#ff00ff"/>
<circle cx="419.92" cy="302.22" r="2.75" fill="#ff00ff"/>
<circle cx="418.98" cy="303.40" r="2.75" fill="#ff00ff"/>
<circle cx="418.17" cy="304.65" r="2.75" fill="#ff00ff"/>
<circle cx="417.48" cy="305.98" r="2.75" fill="#ff00ff"/>
<circle cx="416.80" cy="307.32" r="2.75" fill="#ff00ff"/>
<circle cx="416.11" cy="308.65" r="2.75" fill="#ff00ff"/>
<circle cx="415.43" cy="309.98" r="2.75" fill="#ff00ff"/>
<circle cx="414.74" cy="311.32" r="2.75" fill="#ff00ff"/>
<circle cx="414.06" cy="312.65" r="2.75" fill="#ff00ff"/>
<circle cx="413.37" cy="313.99" r="2.75" fill="#ff00ff"/>
<circle cx="412.69" cy="315.32" r="2.75" fill="#ff00ff"/>
<circle cx="412.00" cy="316.66" r="2.75" fill="#ff00ff"/>
<circle cx="411.32" cy="317.99" r="2.75" fill="#ff00ff"/>
<circle cx="410.63" cy="319.32" r="2.75" fill="#ff00ff"/>
<circle cx="409.95" cy="320.66" r="2.75" fill="#ff00ff"/>
<circle cx="409.26" cy="321.99" r="2.75" fill="#ff00ff"/>
<rect x="320.60" y="148.80" width="5" height="5" fill="#000"/>
<text x="336.6" y="153.8" font-size="12" font-family='"Liberation Serif", serif' font-weight="bold" text-anchor="start" fill="#000" textLength="66" lengthAdjust="spacing" >before cycles</text>
<circle cx="323.10" cy="166.60" r="2.75" fill="#ff0000"/>
<text x="336.6" y="168.9" font-size="12" font-family='"Liberation Serif", serif' font-weight="bold" text-anchor="start" fill="#000" textLength="100.6" lengthAdjust="spacing" >before cycles fitting</text>
<rect x="320.60" y="179.70" width="5" height="5" fill="#0000ff"/>
<text x="336.6" y="184.7" font-size="12" font-family='"Liberation Serif", serif' font-weight="bold" text-anchor="start" fill="#000" textLength="57.4" lengthAdjust="spacing" >after cycles</text>
<circle cx="323.10" cy="197.40" r="2.75" fill="#ff00ff"/>
<text x="336.6" y="199.9" font-size="12" font-family='"Liberation Serif", serif' font-weight="bold" text-anchor="start" fill="#000" textLength="93" lengthAdjust="spacing" >after cycles fitting</text>
<rect x="719.8" y="23.6" width="471.20000000000005" height="346.09999999999997" fill="none" stroke="#000" stroke-width="2.8"/>
<line x1="830.4" y1="369.7" x2="830.4" y2="362" stroke="#000" stroke-width="2.6" stroke-linecap="butt"/>
<text x="830.4" y="393" font-size="19.5" font-family='"Liberation Serif", serif' font-weight="bold" text-anchor="middle" fill="#000" >20</text>
<line x1="719.8" y1="286.5" x2="727" y2="286.5" stroke="#000" stroke-width="2.6" stroke-linecap="butt"/>
<text x="711" y="292.0" font-size="19.5" font-family='"Liberation Serif", serif' font-weight="bold" text-anchor="end" fill="#000" letter-spacing="0.8">20</text>
<line x1="941.25" y1="369.7" x2="941.25" y2="362" stroke="#000" stroke-width="2.6" stroke-linecap="butt"/>
<text x="941.25" y="393" font-size="19.5" font-family='"Liberation Serif", serif' font-weight="bold" text-anchor="middle" fill="#000" >40</text>
<line x1="719.8" y1="205.59999999999997" x2="727" y2="205.59999999999997" stroke="#000" stroke-width="2.6" stroke-linecap="butt"/>
<text x="711" y="211.09999999999997" font-size="19.5" font-family='"Liberation Serif", serif' font-weight="bold" text-anchor="end" fill="#000" letter-spacing="0.8">40</text>
<line x1="1052.1" y1="369.7" x2="1052.1" y2="362" stroke="#000" stroke-width="2.6" stroke-linecap="butt"/>
<text x="1052.1" y="393" font-size="19.5" font-family='"Liberation Serif", serif' font-weight="bold" text-anchor="middle" fill="#000" >60</text>
<line x1="719.8" y1="124.69999999999999" x2="727" y2="124.69999999999999" stroke="#000" stroke-width="2.6" stroke-linecap="butt"/>
<text x="711" y="130.2" font-size="19.5" font-family='"Liberation Serif", serif' font-weight="bold" text-anchor="end" fill="#000" letter-spacing="0.8">60</text>
<line x1="1162.95" y1="369.7" x2="1162.95" y2="362" stroke="#000" stroke-width="2.6" stroke-linecap="butt"/>
<text x="1162.95" y="393" font-size="19.5" font-family='"Liberation Serif", serif' font-weight="bold" text-anchor="middle" fill="#000" >80</text>
<line x1="719.8" y1="43.799999999999955" x2="727" y2="43.799999999999955" stroke="#000" stroke-width="2.6" stroke-linecap="butt"/>
<text x="711" y="49.299999999999955" font-size="19.5" font-family='"Liberation Serif", serif' font-weight="bold" text-anchor="end" fill="#000" letter-spacing="0.8">80</text>
<text x="719.55" y="393" font-size="19.5" font-family='"Liberation Serif", serif' font-weight="bold" text-anchor="middle" fill="#000" >0</text>
<text x="711.5" y="374.5" font-size="19.5" font-family='"Liberation Serif", serif' font-weight="bold" text-anchor="end" fill="#000" >0</text>
<text x="950.7" y="426" font-size="27" font-family='"Liberation Serif", serif' text-anchor="start" fill="#000" >z</text>
<text x="961.9000000000001" y="426" font-size="27" font-family='"Liberation Serif", serif' text-anchor="start" fill="#000" >'</text>
<text x="974.5" y="426" font-size="27" font-family='"Liberation Serif", serif' text-anchor="start" fill="#000" >/</text>
<text x="989.5" y="426" font-size="27.5" font-family='"Liberation Serif", serif' text-anchor="start" fill="#000" >Ω</text>
<g transform="translate(657.8,218.3) rotate(-90) scale(1.0)">
<text x="-1" y="-2" font-size="19.5" font-family='"Liberation Serif", serif' text-anchor="start" fill="#000" >-</text>
<text x="9.6" y="0" font-size="19.5" font-family='"Liberation Serif", serif' text-anchor="start" fill="#000" >Z</text>
<text x="22.4" y="-5.5" font-size="19.5" font-family='"Liberation Serif", serif' text-anchor="start" fill="#000" >''</text>
<text x="38.4" y="0" font-size="28.5" font-family='"Liberation Serif", serif' text-anchor="start" fill="#000" >/</text>
<text x="53.9" y="0" font-size="28.5" font-family='"Liberation Serif", serif' text-anchor="start" fill="#000" >Ω</text>
</g>
<rect x="754.35" y="190.25" width="7.5" height="7.5" fill="#000"/>
<rect x="748.45" y="226.15" width="7.5" height="7.5" fill="#000"/>
<rect x="744.05" y="254.15" width="7.5" height="7.5" fill="#000"/>
<rect x="740.45" y="276.35" width="7.5" height="7.5" fill="#000"/>
<rect x="737.75" y="293.65" width="7.5" height="7.5" fill="#000"/>
<rect x="735.15" y="307.35" width="7.5" height="7.5" fill="#000"/>
<rect x="733.55" y="318.75" width="7.5" height="7.5" fill="#000"/>
<rect x="733.55" y="318.75" width="7.5" height="7.5" fill="#000"/>
<rect x="732.98" y="320.67" width="7.5" height="7.5" fill="#000"/>
<rect x="732.40" y="322.58" width="7.5" height="7.5" fill="#000"/>
<rect x="731.83" y="324.50" width="7.5" height="7.5" fill="#000"/>
<rect x="731.25" y="326.41" width="7.5" height="7.5" fill="#000"/>
<rect x="730.68" y="328.33" width="7.5" height="7.5" fill="#000"/>
<rect x="730.09" y="330.24" width="7.5" height="7.5" fill="#000"/>
<rect x="729.45" y="332.14" width="7.5" height="7.5" fill="#000"/>
<rect x="728.82" y="334.03" width="7.5" height="7.5" fill="#000"/>
<rect x="728.19" y="335.93" width="7.5" height="7.5" fill="#000"/>
<rect x="727.56" y="337.83" width="7.5" height="7.5" fill="#000"/>
<rect x="726.92" y="339.73" width="7.5" height="7.5" fill="#000"/>
<rect x="726.29" y="341.62" width="7.5" height="7.5" fill="#000"/>
<rect x="725.66" y="343.52" width="7.5" height="7.5" fill="#000"/>
<rect x="725.04" y="345.42" width="7.5" height="7.5" fill="#000"/>
<rect x="724.43" y="347.33" width="7.5" height="7.5" fill="#000"/>
<rect x="723.82" y="349.23" width="7.5" height="7.5" fill="#000"/>
<rect x="723.21" y="351.14" width="7.5" height="7.5" fill="#000"/>
<rect x="722.60" y="353.04" width="7.5" height="7.5" fill="#000"/>
<rect x="721.99" y="354.95" width="7.5" height="7.5" fill="#000"/>
<rect x="721.38" y="356.85" width="7.5" height="7.5" fill="#000"/>
<rect x="720.87" y="358.78" width="7.5" height="7.5" fill="#000"/>
<rect x="720.38" y="360.72" width="7.5" height="7.5" fill="#000"/>
<rect x="719.90" y="362.66" width="7.5" height="7.5" fill="#000"/>
<circle cx="758.60" cy="192.50" r="4.15" fill="#ff0000"/>
<circle cx="752.70" cy="228.40" r="4.15" fill="#ff0000"/>
<circle cx="748.30" cy="256.40" r="4.15" fill="#ff0000"/>
<circle cx="744.70" cy="278.60" r="4.15" fill="#ff0000"/>
<circle cx="742.00" cy="295.90" r="4.15" fill="#ff0000"/>
<circle cx="739.40" cy="309.60" r="4.15" fill="#ff0000"/>
<circle cx="737.80" cy="321.00" r="4.15" fill="#ff0000"/>
<circle cx="737.80" cy="321.00" r="4.15" fill="#ff0000"/>
<circle cx="737.23" cy="322.92" r="4.15" fill="#ff0000"/>
<circle cx="736.65" cy="324.83" r="4.15" fill="#ff0000"/>
<circle cx="736.08" cy="326.75" r="4.15" fill="#ff0000"/>
<circle cx="735.50" cy="328.66" r="4.15" fill="#ff0000"/>
<circle cx="734.93" cy="330.58" r="4.15" fill="#ff0000"/>
<circle cx="734.34" cy="332.49" r="4.15" fill="#ff0000"/>
<circle cx="733.70" cy="334.39" r="4.15" fill="#ff0000"/>
<circle cx="733.07" cy="336.28" r="4.15" fill="#ff0000"/>
<circle cx="732.44" cy="338.18" r="4.15" fill="#ff0000"/>
<circle cx="731.81" cy="340.08" r="4.15" fill="#ff0000"/>
<circle cx="731.17" cy="341.98" r="4.15" fill="#ff0000"/>
<circle cx="730.54" cy="343.87" r="4.15" fill="#ff0000"/>
<circle cx="729.91" cy="345.77" r="4.15" fill="#ff0000"/>
<circle cx="729.29" cy="347.67" r="4.15" fill="#ff0000"/>
<circle cx="728.70" cy="349.58" r="4.15" fill="#ff0000"/>
<circle cx="728.12" cy="351.50" r="4.15" fill="#ff0000"/>
<circle cx="727.53" cy="353.41" r="4.15" fill="#ff0000"/>
<circle cx="726.94" cy="355.32" r="4.15" fill="#ff0000"/>
<circle cx="726.35" cy="357.23" r="4.15" fill="#ff0000"/>
<circle cx="725.76" cy="359.14" r="4.15" fill="#ff0000"/>
<circle cx="725.31" cy="361.09" r="4.15" fill="#ff0000"/>
<circle cx="724.97" cy="363.06" r="4.15" fill="#ff0000"/>
<circle cx="724.63" cy="365.03" r="4.15" fill="#ff0000"/>
<circle cx="724.29" cy="367.00" r="4.15" fill="#ff0000"/>
<rect x="964.10" y="59.00" width="8" height="8" fill="#0000ff"/>
<rect x="939.60" y="79.20" width="8" height="8" fill="#0000ff"/>
<rect x="917.90" y="99.10" width="8" height="8" fill="#0000ff"/>
<rect x="897.30" y="118.30" width="8" height="8" fill="#0000ff"/>
<rect x="879.30" y="137.70" width="8" height="8" fill="#0000ff"/>
<rect x="863.60" y="155.00" width="8" height="8" fill="#0000ff"/>
<rect x="848.90" y="170.70" width="8" height="8" fill="#0000ff"/>
<rect x="835.20" y="186.10" width="8" height="8" fill="#0000ff"/>
<rect x="823.20" y="200.10" width="8" height="8" fill="#0000ff"/>
<rect x="812.70" y="212.50" width="8" height="8" fill="#0000ff"/>
<rect x="802.50" y="224.30" width="8" height="8" fill="#0000ff"/>
<rect x="794.00" y="235.50" width="8" height="8" fill="#0000ff"/>
<rect x="785.80" y="246.70" width="8" height="8" fill="#0000ff"/>
<rect x="779.10" y="258.40" width="8" height="8" fill="#0000ff"/>
<rect x="773.40" y="267.50" width="8" height="8" fill="#0000ff"/>
<rect x="767.40" y="276.10" width="8" height="8" fill="#0000ff"/>
<rect x="762.40" y="284.10" width="8" height="8" fill="#0000ff"/>
<rect x="757.80" y="291.40" width="8" height="8" fill="#0000ff"/>
<rect x="757.80" y="291.40" width="8" height="8" fill="#0000ff"/>
<rect x="756.83" y="293.15" width="8" height="8" fill="#0000ff"/>
<rect x="755.87" y="294.90" width="8" height="8" fill="#0000ff"/>
<rect x="754.90" y="296.65" width="8" height="8" fill="#0000ff"/>
<rect x="753.93" y="298.40" width="8" height="8" fill="#0000ff"/>
<rect x="752.97" y="300.15" width="8" height="8" fill="#0000ff"/>
<rect x="752.14" y="301.97" width="8" height="8" fill="#0000ff"/>
<rect x="751.45" y="303.85" width="8" height="8" fill="#0000ff"/>
<rect x="750.75" y="305.72" width="8" height="8" fill="#0000ff"/>
<rect x="750.06" y="307.60" width="8" height="8" fill="#0000ff"/>
<rect x="749.36" y="309.47" width="8" height="8" fill="#0000ff"/>
<rect x="748.67" y="311.35" width="8" height="8" fill="#0000ff"/>
<rect x="747.97" y="313.22" width="8" height="8" fill="#0000ff"/>
<rect x="747.19" y="315.06" width="8" height="8" fill="#0000ff"/>
<rect x="746.22" y="316.81" width="8" height="8" fill="#0000ff"/>
<rect x="745.25" y="318.55" width="8" height="8" fill="#0000ff"/>
<rect x="744.28" y="320.30" width="8" height="8" fill="#0000ff"/>
<rect x="743.31" y="322.05" width="8" height="8" fill="#0000ff"/>
<rect x="742.33" y="323.80" width="8" height="8" fill="#0000ff"/>
<rect x="741.36" y="325.55" width="8" height="8" fill="#0000ff"/>
<rect x="740.39" y="327.30" width="8" height="8" fill="#0000ff"/>
<rect x="739.56" y="329.11" width="8" height="8" fill="#0000ff"/>
<rect x="738.81" y="330.97" width="8" height="8" fill="#0000ff"/>
<rect x="738.07" y="332.82" width="8" height="8" fill="#0000ff"/>
<rect x="737.33" y="334.68" width="8" height="8" fill="#0000ff"/>
<rect x="736.59" y="336.54" width="8" height="8" fill="#0000ff"/>
<rect x="735.84" y="338.39" width="8" height="8" fill="#0000ff"/>
<rect x="735.10" y="340.25" width="8" height="8" fill="#0000ff"/>
<rect x="734.36" y="342.11" width="8" height="8" fill="#0000ff"/>
<rect x="733.62" y="343.97" width="8" height="8" fill="#0000ff"/>
<rect x="732.89" y="345.83" width="8" height="8" fill="#0000ff"/>
<rect x="732.15" y="347.69" width="8" height="8" fill="#0000ff"/>
<rect x="731.42" y="349.55" width="8" height="8" fill="#0000ff"/>
<rect x="730.69" y="351.41" width="8" height="8" fill="#0000ff"/>
<rect x="729.96" y="353.27" width="8" height="8" fill="#0000ff"/>
<rect x="729.23" y="355.13" width="8" height="8" fill="#0000ff"/>
<rect x="728.50" y="357.00" width="8" height="8" fill="#0000ff"/>
<rect x="727.84" y="358.88" width="8" height="8" fill="#0000ff"/>
<rect x="727.21" y="360.78" width="8" height="8" fill="#0000ff"/>
<circle cx="957.60" cy="72.40" r="4.25" fill="#ff00ff"/>
<circle cx="938.40" cy="91.10" r="4.25" fill="#ff00ff"/>
<circle cx="919.50" cy="108.80" r="4.25" fill="#ff00ff"/>
<circle cx="902.00" cy="126.00" r="4.25" fill="#ff00ff"/>
<circle cx="884.50" cy="141.70" r="4.25" fill="#ff00ff"/>
<circle cx="868.30" cy="157.70" r="4.25" fill="#ff00ff"/>
<circle cx="853.90" cy="172.70" r="4.25" fill="#ff00ff"/>
<circle cx="840.40" cy="186.60" r="4.25" fill="#ff00ff"/>
<circle cx="827.40" cy="200.90" r="4.25" fill="#ff00ff"/>
<circle cx="816.70" cy="213.50" r="4.25" fill="#ff00ff"/>
<circle cx="806.80" cy="226.40" r="4.25" fill="#ff00ff"/>
<circle cx="798.00" cy="237.80" r="4.25" fill="#ff00ff"/>
<circle cx="789.80" cy="249.00" r="4.25" fill="#ff00ff"/>
<circle cx="782.60" cy="259.90" r="4.25" fill="#ff00ff"/>
<circle cx="776.90" cy="269.00" r="4.25" fill="#ff00ff"/>
<circle cx="770.90" cy="277.60" r="4.25" fill="#ff00ff"/>
<circle cx="765.90" cy="285.60" r="4.25" fill="#ff00ff"/>
<circle cx="761.30" cy="292.90" r="4.25" fill="#ff00ff"/>
<circle cx="761.30" cy="292.90" r="4.25" fill="#ff00ff"/>
<circle cx="760.37" cy="294.67" r="4.25" fill="#ff00ff"/>
<circle cx="759.44" cy="296.44" r="4.25" fill="#ff00ff"/>
<circle cx="758.51" cy="298.21" r="4.25" fill="#ff00ff"/>
<circle cx="757.58" cy="299.98" r="4.25" fill="#ff00ff"/>
<circle cx="756.65" cy="301.75" r="4.25" fill="#ff00ff"/>
<circle cx="755.80" cy="303.56" r="4.25" fill="#ff00ff"/>
<circle cx="755.12" cy="305.44" r="4.25" fill="#ff00ff"/>
<circle cx="754.45" cy="307.32" r="4.25" fill="#ff00ff"/>
<circle cx="753.77" cy="309.20" r="4.25" fill="#ff00ff"/>
<circle cx="753.09" cy="311.09" r="4.25" fill="#ff00ff"/>
<circle cx="752.41" cy="312.97" r="4.25" fill="#ff00ff"/>
<circle cx="751.74" cy="314.85" r="4.25" fill="#ff00ff"/>
<circle cx="751.06" cy="316.73" r="4.25" fill="#ff00ff"/>
<circle cx="750.09" cy="318.48" r="4.25" fill="#ff00ff"/>
<circle cx="749.10" cy="320.22" r="4.25" fill="#ff00ff"/>
<circle cx="748.11" cy="321.95" r="4.25" fill="#ff00ff"/>
<circle cx="747.11" cy="323.69" r="4.25" fill="#ff00ff"/>
<circle cx="746.12" cy="325.42" r="4.25" fill="#ff00ff"/>
<circle cx="745.13" cy="327.16" r="4.25" fill="#ff00ff"/>
<circle cx="744.13" cy="328.90" r="4.25" fill="#ff00ff"/>
<circle cx="743.23" cy="330.67" r="4.25" fill="#ff00ff"/>
<circle cx="742.47" cy="332.53" r="4.25" fill="#ff00ff"/>
<circle cx="741.72" cy="334.38" r="4.25" fill="#ff00ff"/>
<circle cx="740.97" cy="336.23" r="4.25" fill="#ff00ff"/>
<circle cx="740.22" cy="338.09" r="4.25" fill="#ff00ff"/>
<circle cx="739.46" cy="339.94" r="4.25" fill="#ff00ff"/>
<circle cx="738.71" cy="341.79" r="4.25" fill="#ff00ff"/>
<circle cx="737.96" cy="343.64" r="4.25" fill="#ff00ff"/>
<circle cx="737.20" cy="345.50" r="4.25" fill="#ff00ff"/>
<circle cx="736.47" cy="347.36" r="4.25" fill="#ff00ff"/>
<circle cx="735.74" cy="349.22" r="4.25" fill="#ff00ff"/>
<circle cx="735.00" cy="351.08" r="4.25" fill="#ff00ff"/>
<circle cx="734.27" cy="352.94" r="4.25" fill="#ff00ff"/>
<circle cx="733.54" cy="354.80" r="4.25" fill="#ff00ff"/>
<circle cx="732.81" cy="356.66" r="4.25" fill="#ff00ff"/>
<circle cx="732.08" cy="358.53" r="4.25" fill="#ff00ff"/>
<circle cx="731.43" cy="360.41" r="4.25" fill="#ff00ff"/>
<circle cx="731.09" cy="362.38" r="4.25" fill="#ff00ff"/>
<circle cx="730.75" cy="364.35" r="4.25" fill="#ff00ff"/>
<circle cx="730.40" cy="366.32" r="4.25" fill="#ff00ff"/>
<rect x="1015.00" y="38.50" width="8" height="8" fill="#000"/>
<text x="1041.0" y="47.1" font-size="15.3" font-family='"Liberation Serif", serif' font-weight="bold" text-anchor="start" fill="#000" textLength="93" lengthAdjust="spacing" >before cycles</text>
<circle cx="1019.00" cy="64.00" r="4.25" fill="#ff0000"/>
<text x="1041.0" y="69.1" font-size="15.3" font-family='"Liberation Serif", serif' font-weight="bold" text-anchor="start" fill="#000" textLength="141" lengthAdjust="spacing" >before cycles fitting</text>
<rect x="1015.00" y="81.40" width="8" height="8" fill="#0000ff"/>
<text x="1041.0" y="90.5" font-size="15.3" font-family='"Liberation Serif", serif' font-weight="bold" text-anchor="start" fill="#000" textLength="81.6" lengthAdjust="spacing" >after cycles</text>
<circle cx="1019.00" cy="106.70" r="4.25" fill="#ff00ff"/>
<text x="1041.0" y="111.3" font-size="15.3" font-family='"Liberation Serif", serif' font-weight="bold" text-anchor="start" fill="#000" textLength="129.5" lengthAdjust="spacing" >after cycles fitting</text>
<rect x="927.3" y="137.8" width="251.9" height="184.9" fill="#fff" stroke="#111" stroke-width="1.8"/>
<line x1="977.68" y1="322.7" x2="977.68" y2="318.5" stroke="#111" stroke-width="1.5" stroke-linecap="butt"/>
<line x1="1028.06" y1="322.7" x2="1028.06" y2="318.5" stroke="#111" stroke-width="1.5" stroke-linecap="butt"/>
<line x1="1078.44" y1="322.7" x2="1078.44" y2="318.5" stroke="#111" stroke-width="1.5" stroke-linecap="butt"/>
<line x1="1128.82" y1="322.7" x2="1128.82" y2="318.5" stroke="#111" stroke-width="1.5" stroke-linecap="butt"/>
<line x1="927.3" y1="230.25" x2="931.5" y2="230.25" stroke="#111" stroke-width="1.5" stroke-linecap="butt"/>
<text x="927.3" y="339.5" font-size="14" font-family='"Liberation Serif", serif' font-weight="bold" text-anchor="middle" fill="#000" >0</text>
<text x="977.68" y="339.5" font-size="14" font-family='"Liberation Serif", serif' font-weight="bold" text-anchor="middle" fill="#000" >2</text>
<text x="1028.06" y="339.5" font-size="14" font-family='"Liberation Serif", serif' font-weight="bold" text-anchor="middle" fill="#000" >4</text>
<text x="1078.44" y="339.5" font-size="14" font-family='"Liberation Serif", serif' font-weight="bold" text-anchor="middle" fill="#000" >6</text>
<text x="1128.82" y="339.5" font-size="14" font-family='"Liberation Serif", serif' font-weight="bold" text-anchor="middle" fill="#000" >8</text>
<text x="1179.2" y="339.5" font-size="14" font-family='"Liberation Serif", serif' font-weight="bold" text-anchor="middle" fill="#000" >10</text>
<text x="922.5" y="327.4" font-size="14" font-family='"Liberation Serif", serif' font-weight="bold" text-anchor="end" fill="#000" >0</text>
<text x="922.5" y="234.95" font-size="14" font-family='"Liberation Serif", serif' font-weight="bold" text-anchor="end" fill="#000" >5</text>
<text x="922.5" y="142.5" font-size="14" font-family='"Liberation Serif", serif' font-weight="bold" text-anchor="end" fill="#000" >10</text>
<text x="1031.7" y="355.2" font-size="15" font-family='"Liberation Serif", serif' font-weight="bold" text-anchor="start" fill="#000" >z</text>
<text x="1038.5" y="355.2" font-size="15" font-family='"Liberation Serif", serif' font-weight="bold" text-anchor="start" fill="#000" >'</text>
<text x="1046.5" y="355.2" font-size="15" font-family='"Liberation Serif", serif' font-weight="bold" text-anchor="start" fill="#000" >/</text>
<text x="1055.5" y="355.2" font-size="15.5" font-family='"Liberation Serif", serif' font-weight="bold" text-anchor="start" fill="#000" >Ω</text>
<g transform="translate(894.8,244.9) rotate(-90) scale(0.59)">
<text x="-1" y="-2" font-size="19.5" font-family='"Liberation Serif", serif' font-weight="bold" text-anchor="start" fill="#000" >-</text>
<text x="9.6" y="0" font-size="19.5" font-family='"Liberation Serif", serif' font-weight="bold" text-anchor="start" fill="#000" >Z</text>
<text x="22.4" y="-5.5" font-size="19.5" font-family='"Liberation Serif", serif' font-weight="bold" text-anchor="start" fill="#000" >''</text>
<text x="38.4" y="0" font-size="28.5" font-family='"Liberation Serif", serif' font-weight="bold" text-anchor="start" fill="#000" >/</text>
<text x="53.9" y="0" font-size="28.5" font-family='"Liberation Serif", serif' font-weight="bold" text-anchor="start" fill="#000" >Ω</text>
</g>
<rect x="1001.40" y="144.10" width="4.6" height="4.6" fill="#000"/>
<rect x="996.60" y="177.20" width="4.6" height="4.6" fill="#000"/>
<rect x="991.70" y="203.40" width="4.6" height="4.6" fill="#000"/>
<rect x="988.00" y="224.80" width="4.6" height="4.6" fill="#000"/>
<rect x="984.80" y="243.10" width="4.6" height="4.6" fill="#000"/>
<rect x="981.60" y="256.40" width="4.6" height="4.6" fill="#000"/>
<rect x="979.00" y="267.70" width="4.6" height="4.6" fill="#000"/>
<rect x="976.60" y="276.50" width="4.6" height="4.6" fill="#000"/>
<rect x="974.50" y="284.00" width="4.6" height="4.6" fill="#000"/>
<rect x="972.50" y="290.10" width="4.6" height="4.6" fill="#000"/>
<circle cx="1004.50" cy="146.90" r="2.5" fill="#ff0000"/>
<circle cx="999.70" cy="180.00" r="2.5" fill="#ff0000"/>
<circle cx="994.80" cy="206.20" r="2.5" fill="#ff0000"/>
<circle cx="991.10" cy="227.60" r="2.5" fill="#ff0000"/>
<circle cx="987.90" cy="245.90" r="2.5" fill="#ff0000"/>
<circle cx="984.70" cy="259.20" r="2.5" fill="#ff0000"/>
<circle cx="982.10" cy="270.50" r="2.5" fill="#ff0000"/>
<circle cx="979.70" cy="279.30" r="2.5" fill="#ff0000"/>
<circle cx="977.60" cy="286.80" r="2.5" fill="#ff0000"/>
<circle cx="975.60" cy="292.90" r="2.5" fill="#ff0000"/>
<circle cx="975.60" cy="292.90" r="2.5" fill="#ff0000"/>
<circle cx="975.18" cy="294.02" r="2.5" fill="#ff0000"/>
<circle cx="974.75" cy="295.15" r="2.5" fill="#ff0000"/>
<circle cx="974.33" cy="296.27" r="2.5" fill="#ff0000"/>
<circle cx="973.91" cy="297.39" r="2.5" fill="#ff0000"/>
<circle cx="973.48" cy="298.51" r="2.5" fill="#ff0000"/>
<circle cx="973.06" cy="299.64" r="2.5" fill="#ff0000"/>
<circle cx="972.64" cy="300.76" r="2.5" fill="#ff0000"/>
<circle cx="972.22" cy="301.89" r="2.5" fill="#ff0000"/>
<circle cx="971.81" cy="303.01" r="2.5" fill="#ff0000"/>
<circle cx="971.39" cy="304.14" r="2.5" fill="#ff0000"/>
<circle cx="970.97" cy="305.26" r="2.5" fill="#ff0000"/>
<circle cx="970.55" cy="306.39" r="2.5" fill="#ff0000"/>
<circle cx="970.13" cy="307.51" r="2.5" fill="#ff0000"/>
<circle cx="969.69" cy="308.62" r="2.5" fill="#ff0000"/>
<circle cx="969.14" cy="309.69" r="2.5" fill="#ff0000"/>
<circle cx="968.60" cy="310.76" r="2.5" fill="#ff0000"/>
<circle cx="968.06" cy="311.83" r="2.5" fill="#ff0000"/>
<circle cx="967.52" cy="312.91" r="2.5" fill="#ff0000"/>
<circle cx="966.98" cy="313.98" r="2.5" fill="#ff0000"/>
<circle cx="966.43" cy="315.05" r="2.5" fill="#ff0000"/>
<circle cx="965.87" cy="316.10" r="2.5" fill="#ff0000"/>
<circle cx="965.20" cy="317.10" r="2.5" fill="#ff0000"/>
<circle cx="964.54" cy="318.10" r="2.5" fill="#ff0000"/>
<circle cx="963.88" cy="319.11" r="2.5" fill="#ff0000"/>
<circle cx="963.22" cy="320.11" r="2.5" fill="#ff0000"/>
<circle cx="962.56" cy="321.11" r="2.5" fill="#ff0000"/>
<rect x="1037.90" y="141.30" width="4.6" height="4.6" fill="#0000ff"/>
<rect x="1031.40" y="156.70" width="4.6" height="4.6" fill="#0000ff"/>
<rect x="1024.50" y="172.60" width="4.6" height="4.6" fill="#0000ff"/>
<rect x="1018.80" y="186.90" width="4.6" height="4.6" fill="#0000ff"/>
<rect x="1014.50" y="198.90" width="4.6" height="4.6" fill="#0000ff"/>
<rect x="1010.30" y="210.80" width="4.6" height="4.6" fill="#0000ff"/>
<rect x="1006.60" y="220.80" width="4.6" height="4.6" fill="#0000ff"/>
<rect x="1003.70" y="229.60" width="4.6" height="4.6" fill="#0000ff"/>
<rect x="1000.30" y="237.60" width="4.6" height="4.6" fill="#0000ff"/>
<rect x="997.10" y="246.50" width="4.6" height="4.6" fill="#0000ff"/>
<rect x="995.50" y="252.90" width="4.6" height="4.6" fill="#0000ff"/>
<rect x="993.70" y="259.30" width="4.6" height="4.6" fill="#0000ff"/>
<rect x="991.30" y="265.20" width="4.6" height="4.6" fill="#0000ff"/>
<rect x="991.30" y="265.20" width="4.6" height="4.6" fill="#0000ff"/>
<rect x="990.87" y="266.32" width="4.6" height="4.6" fill="#0000ff"/>
<rect x="990.44" y="267.44" width="4.6" height="4.6" fill="#0000ff"/>
<rect x="990.00" y="268.56" width="4.6" height="4.6" fill="#0000ff"/>
<rect x="989.57" y="269.68" width="4.6" height="4.6" fill="#0000ff"/>
<rect x="989.14" y="270.80" width="4.6" height="4.6" fill="#0000ff"/>
<rect x="988.71" y="271.92" width="4.6" height="4.6" fill="#0000ff"/>
<rect x="988.31" y="273.05" width="4.6" height="4.6" fill="#0000ff"/>
<rect x="987.93" y="274.19" width="4.6" height="4.6" fill="#0000ff"/>
<rect x="987.55" y="275.33" width="4.6" height="4.6" fill="#0000ff"/>
<rect x="987.17" y="276.46" width="4.6" height="4.6" fill="#0000ff"/>
<rect x="986.79" y="277.60" width="4.6" height="4.6" fill="#0000ff"/>
<rect x="986.40" y="278.74" width="4.6" height="4.6" fill="#0000ff"/>
<rect x="986.02" y="279.88" width="4.6" height="4.6" fill="#0000ff"/>
<rect x="985.64" y="281.01" width="4.6" height="4.6" fill="#0000ff"/>
<rect x="985.26" y="282.15" width="4.6" height="4.6" fill="#0000ff"/>
<rect x="984.88" y="283.29" width="4.6" height="4.6" fill="#0000ff"/>
<rect x="984.49" y="284.43" width="4.6" height="4.6" fill="#0000ff"/>
<rect x="984.09" y="285.56" width="4.6" height="4.6" fill="#0000ff"/>
<rect x="983.68" y="286.68" width="4.6" height="4.6" fill="#0000ff"/>
<rect x="983.27" y="287.81" width="4.6" height="4.6" fill="#0000ff"/>
<rect x="982.85" y="288.94" width="4.6" height="4.6" fill="#0000ff"/>
<rect x="982.44" y="290.06" width="4.6" height="4.6" fill="#0000ff"/>
<rect x="982.03" y="291.19" width="4.6" height="4.6" fill="#0000ff"/>
<rect x="981.61" y="292.32" width="4.6" height="4.6" fill="#0000ff"/>
<rect x="981.20" y="293.44" width="4.6" height="4.6" fill="#0000ff"/>
<rect x="980.78" y="294.57" width="4.6" height="4.6" fill="#0000ff"/>
<rect x="980.37" y="295.69" width="4.6" height="4.6" fill="#0000ff"/>
<rect x="979.95" y="296.82" width="4.6" height="4.6" fill="#0000ff"/>
<rect x="979.51" y="297.94" width="4.6" height="4.6" fill="#0000ff"/>
<rect x="979.08" y="299.05" width="4.6" height="4.6" fill="#0000ff"/>
<rect x="978.64" y="300.17" width="4.6" height="4.6" fill="#0000ff"/>
<rect x="978.20" y="301.29" width="4.6" height="4.6" fill="#0000ff"/>
<rect x="977.76" y="302.41" width="4.6" height="4.6" fill="#0000ff"/>
<rect x="977.32" y="303.52" width="4.6" height="4.6" fill="#0000ff"/>
<rect x="976.88" y="304.64" width="4.6" height="4.6" fill="#0000ff"/>
<rect x="976.45" y="305.76" width="4.6" height="4.6" fill="#0000ff"/>
<rect x="976.01" y="306.87" width="4.6" height="4.6" fill="#0000ff"/>
<rect x="975.52" y="307.97" width="4.6" height="4.6" fill="#0000ff"/>
<rect x="974.98" y="309.04" width="4.6" height="4.6" fill="#0000ff"/>
<rect x="974.44" y="310.11" width="4.6" height="4.6" fill="#0000ff"/>
<rect x="973.91" y="311.19" width="4.6" height="4.6" fill="#0000ff"/>
<rect x="973.37" y="312.26" width="4.6" height="4.6" fill="#0000ff"/>
<rect x="972.83" y="313.33" width="4.6" height="4.6" fill="#0000ff"/>
<rect x="972.30" y="314.41" width="4.6" height="4.6" fill="#0000ff"/>
<rect x="971.76" y="315.48" width="4.6" height="4.6" fill="#0000ff"/>
<rect x="971.09" y="316.47" width="4.6" height="4.6" fill="#0000ff"/>
<rect x="970.30" y="317.37" width="4.6" height="4.6" fill="#0000ff"/>
<rect x="969.51" y="318.27" width="4.6" height="4.6" fill="#0000ff"/>
<rect x="968.72" y="319.18" width="4.6" height="4.6" fill="#0000ff"/>
<circle cx="1041.00" cy="144.40" r="2.5" fill="#ff00ff"/>
<circle cx="1034.50" cy="159.80" r="2.5" fill="#ff00ff"/>
<circle cx="1027.60" cy="175.70" r="2.5" fill="#ff00ff"/>
<circle cx="1021.90" cy="190.00" r="2.5" fill="#ff00ff"/>
<circle cx="1017.60" cy="202.00" r="2.5" fill="#ff00ff"/>
<circle cx="1013.40" cy="213.90" r="2.5" fill="#ff00ff"/>
<circle cx="1009.70" cy="223.90" r="2.5" fill="#ff00ff"/>
<circle cx="1006.80" cy="232.70" r="2.5" fill="#ff00ff"/>
<circle cx="1003.40" cy="240.70" r="2.5" fill="#ff00ff"/>
<circle cx="1000.20" cy="249.60" r="2.5" fill="#ff00ff"/>
<circle cx="998.60" cy="256.00" r="2.5" fill="#ff00ff"/>
<circle cx="996.80" cy="262.40" r="2.5" fill="#ff00ff"/>
<circle cx="994.40" cy="268.30" r="2.5" fill="#ff00ff"/>
<circle cx="994.40" cy="268.30" r="2.5" fill="#ff00ff"/>
<circle cx="993.97" cy="269.42" r="2.5" fill="#ff00ff"/>
<circle cx="993.54" cy="270.54" r="2.5" fill="#ff00ff"/>
<circle cx="993.10" cy="271.66" r="2.5" fill="#ff00ff"/>
<circle cx="992.67" cy="272.78" r="2.5" fill="#ff00ff"/>
<circle cx="992.24" cy="273.90" r="2.5" fill="#ff00ff"/>
<circle cx="991.81" cy="275.02" r="2.5" fill="#ff00ff"/>
<circle cx="991.41" cy="276.15" r="2.5" fill="#ff00ff"/>
<circle cx="991.03" cy="277.29" r="2.5" fill="#ff00ff"/>
<circle cx="990.65" cy="278.43" r="2.5" fill="#ff00ff"/>
<circle cx="990.27" cy="279.56" r="2.5" fill="#ff00ff"/>
<circle cx="989.89" cy="280.70" r="2.5" fill="#ff00ff"/>
<circle cx="989.50" cy="281.84" r="2.5" fill="#ff00ff"/>
<circle cx="989.12" cy="282.98" r="2.5" fill="#ff00ff"/>
<circle cx="988.74" cy="284.11" r="2.5" fill="#ff00ff"/>
<circle cx="988.36" cy="285.25" r="2.5" fill="#ff00ff"/>
<circle cx="987.98" cy="286.39" r="2.5" fill="#ff00ff"/>
<circle cx="987.59" cy="287.53" r="2.5" fill="#ff00ff"/>
<circle cx="987.19" cy="288.66" r="2.5" fill="#ff00ff"/>
<circle cx="986.78" cy="289.78" r="2.5" fill="#ff00ff"/>
<circle cx="986.37" cy="290.91" r="2.5" fill="#ff00ff"/>
<circle cx="985.95" cy="292.04" r="2.5" fill="#ff00ff"/>
<circle cx="985.54" cy="293.16" r="2.5" fill="#ff00ff"/>
<circle cx="985.13" cy="294.29" r="2.5" fill="#ff00ff"/>
<circle cx="984.71" cy="295.42" r="2.5" fill="#ff00ff"/>
<circle cx="984.30" cy="296.54" r="2.5" fill="#ff00ff"/>
<circle cx="983.88" cy="297.67" r="2.5" fill="#ff00ff"/>
<circle cx="983.47" cy="298.79" r="2.5" fill="#ff00ff"/>
<circle cx="983.05" cy="299.92" r="2.5" fill="#ff00ff"/>
<circle cx="982.61" cy="301.04" r="2.5" fill="#ff00ff"/>
<circle cx="982.18" cy="302.15" r="2.5" fill="#ff00ff"/>
<circle cx="981.74" cy="303.27" r="2.5" fill="#ff00ff"/>
<circle cx="981.30" cy="304.39" r="2.5" fill="#ff00ff"/>
<circle cx="980.86" cy="305.51" r="2.5" fill="#ff00ff"/>
<circle cx="980.42" cy="306.62" r="2.5" fill="#ff00ff"/>
<circle cx="979.98" cy="307.74" r="2.5" fill="#ff00ff"/>
<circle cx="979.55" cy="308.86" r="2.5" fill="#ff00ff"/>
<circle cx="979.11" cy="309.97" r="2.5" fill="#ff00ff"/>
<circle cx="978.62" cy="311.07" r="2.5" fill="#ff00ff"/>
<circle cx="978.08" cy="312.14" r="2.5" fill="#ff00ff"/>
<circle cx="977.54" cy="313.21" r="2.5" fill="#ff00ff"/>
<circle cx="977.01" cy="314.29" r="2.5" fill="#ff00ff"/>
<circle cx="976.47" cy="315.36" r="2.5" fill="#ff00ff"/>
<circle cx="975.93" cy="316.43" r="2.5" fill="#ff00ff"/>
<circle cx="975.40" cy="317.51" r="2.5" fill="#ff00ff"/>
<circle cx="974.86" cy="318.58" r="2.5" fill="#ff00ff"/>
<circle cx="974.14" cy="319.52" r="2.5" fill="#ff00ff"/>
<circle cx="973.26" cy="320.33" r="2.5" fill="#ff00ff"/>
<circle cx="972.38" cy="321.15" r="2.5" fill="#ff00ff"/>
<rect x="1058.20" y="155.80" width="4.6" height="4.6" fill="#000"/>
<text x="1073.0" y="160.75" font-size="12" font-family='"Liberation Serif", serif' font-weight="bold" text-anchor="start" fill="#000" textLength="66" lengthAdjust="spacing" >before cycles</text>
<circle cx="1060.50" cy="173.60" r="2.5" fill="#ff0000"/>
<text x="1073.0" y="176.3" font-size="12" font-family='"Liberation Serif", serif' font-weight="bold" text-anchor="start" fill="#000" textLength="100.4" lengthAdjust="spacing" >before cycles fitting</text>
<rect x="1058.20" y="186.80" width="4.6" height="4.6" fill="#0000ff"/>
<text x="1073.0" y="191.7" font-size="12" font-family='"Liberation Serif", serif' font-weight="bold" text-anchor="start" fill="#000" textLength="57.8" lengthAdjust="spacing" >after cycles</text>
<circle cx="1060.50" cy="204.30" r="2.5" fill="#ff00ff"/>
<text x="1073.0" y="206.8" font-size="12" font-family='"Liberation Serif", serif' font-weight="bold" text-anchor="start" fill="#000" textLength="92.8" lengthAdjust="spacing" >after cycles fitting</text>
<rect x="99.7" y="427.0" width="470.59999999999997" height="342.20000000000005" fill="none" stroke="#000" stroke-width="2.9"/>
<polyline points="124.2,602.4 140.8,602.4 145,594.3 153.7,610.7 163.3,594.3 172,610.7 181.7,594.3 190.8,610.7 194.2,602.4 222.3,602.4" fill="none" stroke="#000" stroke-width="3.2" stroke-linejoin="miter" stroke-miterlimit="10"/>
<polyline points="222.3,546.5 222.3,670.8" fill="none" stroke="#000" stroke-width="3.2" stroke-linejoin="miter" stroke-miterlimit="10"/>
<polyline points="220.7,546.5 290,546.5" fill="none" stroke="#000" stroke-width="3.2" stroke-linejoin="miter" stroke-miterlimit="10"/>
<polyline points="309.9,546.5 377.5,546.5 377.5,670.8" fill="none" stroke="#000" stroke-width="3.2" stroke-linejoin="miter" stroke-miterlimit="10"/>
<rect x="289.7" y="518" width="6.5" height="58.8" fill="#000"/>
<rect x="303.3" y="518" width="6.6" height="58.8" fill="#000"/>
<polyline points="220.7,670.8 273.3,670.8 277,663.8 285.8,679 295.3,663.8 304.2,679 314.2,663.8 323,679 326.7,670.8 379.1,670.8" fill="none" stroke="#000" stroke-width="3.2" stroke-linejoin="miter" stroke-miterlimit="10"/>
<polyline points="377.5,609.2 428.5,609.2" fill="none" stroke="#000" stroke-width="3.2" stroke-linejoin="miter" stroke-miterlimit="10"/>
<rect x="428.3" y="580" width="6.7" height="59.2" fill="#000"/>
<rect x="442.5" y="580" width="6.7" height="59.2" fill="#000"/>
<polyline points="449,609.2 495.8,609.2 498.3,601 507.5,617 516.7,601 525.8,617 535.8,601 544.7,617 549.2,609.2 564.2,609.2" fill="none" stroke="#000" stroke-width="3.2" stroke-linejoin="miter" stroke-miterlimit="10"/>
<text x="275.6" y="512.7" font-size="24.5" font-family='"Liberation Serif", serif' text-anchor="start" fill="#000" textLength="61" lengthAdjust="spacing" >CPE-1</text>
<text x="411" y="573.9" font-size="24.5" font-family='"Liberation Serif", serif' text-anchor="start" fill="#000" textLength="61.3" lengthAdjust="spacing" >CPE-2</text>
<text x="161.5" y="636.7" font-size="23" font-family='"Liberation Serif", serif' text-anchor="start" fill="#000" >R</text>
<text x="178.3" y="640.4" font-size="15.5" font-family='"Liberation Serif", serif' text-anchor="start" fill="#000" >S</text>
<text x="289.8" y="709.4" font-size="23.5" font-family='"Liberation Serif", serif' text-anchor="start" fill="#000" >R</text>
<text x="305.8" y="712.6" font-size="16" font-family='"Liberation Serif", serif' text-anchor="start" fill="#000" textLength="11.6" lengthAdjust="spacing" >ct</text>
<text x="516.2" y="646.9" font-size="23" font-family='"Liberation Serif", serif' text-anchor="start" fill="#000" >Z</text>
<text x="530.6" y="649.4" font-size="15" font-family='"Liberation Serif", serif' text-anchor="start" fill="#000" textLength="11.3" lengthAdjust="spacing" >w</text>
<rect x="723.7" y="432.5" width="470.70000000000005" height="344.79999999999995" fill="none" stroke="#000" stroke-width="2.7"/>
<line x1="808.8000000000001" y1="777.3" x2="808.8000000000001" y2="770" stroke="#000" stroke-width="2.5" stroke-linecap="butt"/>
<text x="808.8000000000001" y="798.4" font-size="17" font-family='"Liberation Serif", serif' font-weight="bold" text-anchor="middle" fill="#000" letter-spacing="0.6">500</text>
<line x1="894.4000000000001" y1="777.3" x2="894.4000000000001" y2="770" stroke="#000" stroke-width="2.5" stroke-linecap="butt"/>
<text x="894.4000000000001" y="798.4" font-size="17" font-family='"Liberation Serif", serif' font-weight="bold" text-anchor="middle" fill="#000" letter-spacing="0.6">1000</text>
<line x1="980.0" y1="777.3" x2="980.0" y2="770" stroke="#000" stroke-width="2.5" stroke-linecap="butt"/>
<text x="980.0" y="798.4" font-size="17" font-family='"Liberation Serif", serif' font-weight="bold" text-anchor="middle" fill="#000" letter-spacing="0.6">1500</text>
<line x1="1065.6" y1="777.3" x2="1065.6" y2="770" stroke="#000" stroke-width="2.5" stroke-linecap="butt"/>
<text x="1065.6" y="798.4" font-size="17" font-family='"Liberation Serif", serif' font-weight="bold" text-anchor="middle" fill="#000" letter-spacing="0.6">2000</text>
<line x1="1151.2" y1="777.3" x2="1151.2" y2="770" stroke="#000" stroke-width="2.5" stroke-linecap="butt"/>
<text x="1151.2" y="798.4" font-size="17" font-family='"Liberation Serif", serif' font-weight="bold" text-anchor="middle" fill="#000" letter-spacing="0.6">2500</text>
<line x1="723.7" y1="714.0" x2="731" y2="714.0" stroke="#000" stroke-width="2.5" stroke-linecap="butt"/>
<text x="717.3" y="719.4" font-size="19" font-family='"Liberation Serif", serif' font-weight="bold" text-anchor="end" fill="#000" letter-spacing="1.0">20</text>
<line x1="723.7" y1="651.4000000000001" x2="731" y2="651.4000000000001" stroke="#000" stroke-width="2.5" stroke-linecap="butt"/>
<text x="717.3" y="656.8000000000001" font-size="19" font-family='"Liberation Serif", serif' font-weight="bold" text-anchor="end" fill="#000" letter-spacing="1.0">40</text>
<line x1="723.7" y1="588.8000000000001" x2="731" y2="588.8000000000001" stroke="#000" stroke-width="2.5" stroke-linecap="butt"/>
<text x="717.3" y="594.2" font-size="19" font-family='"Liberation Serif", serif' font-weight="bold" text-anchor="end" fill="#000" letter-spacing="1.0">60</text>
<line x1="723.7" y1="526.2" x2="731" y2="526.2" stroke="#000" stroke-width="2.5" stroke-linecap="butt"/>
<text x="717.3" y="531.6" font-size="19" font-family='"Liberation Serif", serif' font-weight="bold" text-anchor="end" fill="#000" letter-spacing="1.0">80</text>
<line x1="723.7" y1="463.6" x2="731" y2="463.6" stroke="#000" stroke-width="2.5" stroke-linecap="butt"/>
<text x="717.3" y="469.0" font-size="19" font-family='"Liberation Serif", serif' font-weight="bold" text-anchor="end" fill="#000" letter-spacing="1.0">100</text>
<text x="723.5" y="798.4" font-size="17" font-family='"Liberation Serif", serif' font-weight="bold" text-anchor="middle" fill="#000" >0</text>
<text x="715.6" y="781.8" font-size="18" font-family='"Liberation Serif", serif' font-weight="bold" text-anchor="end" fill="#000" >0</text>
<text x="876.3" y="830.25" font-size="27" font-family='"Liberation Serif", serif' text-anchor="start" fill="#000" textLength="154.5" lengthAdjust="spacing" >Cycle number</text>
<g transform="translate(679,784.5) rotate(-90)">
<text x="0" y="0" font-size="28.5" font-family='"Liberation Serif", serif' text-anchor="start" fill="#000" textLength="292" lengthAdjust="spacing" >Capacitance retention / %</text>
</g>
<polyline points="724.4,462.6 740,454.8 757.4,462 775,457.2 791.4,454.8 808.6,454 826,450.8 843.4,455.2 859.6,454.8 877,452 894.4,456 911.6,457.2 928.6,458.2 945.5,460 963,462 980,466.4 997.4,467.4 1014,468.2 1031,468.2 1048,468.2 1065.6,468.2 1082.4,466 1099.4,465.2 1116.6,464.2 1133.6,460 1150.6,465.2" fill="none" stroke="#111" stroke-width="1.3" stroke-linejoin="miter" stroke-miterlimit="10"/>
<rect x="720.80" y="459.00" width="7.2" height="7.2" fill="#000"/>
<rect x="736.40" y="451.20" width="7.2" height="7.2" fill="#000"/>
<rect x="753.80" y="458.40" width="7.2" height="7.2" fill="#000"/>
<rect x="771.40" y="453.60" width="7.2" height="7.2" fill="#000"/>
<rect x="787.80" y="451.20" width="7.2" height="7.2" fill="#000"/>
<rect x="805.00" y="450.40" width="7.2" height="7.2" fill="#000"/>
<rect x="822.40" y="447.20" width="7.2" height="7.2" fill="#000"/>
<rect x="839.80" y="451.60" width="7.2" height="7.2" fill="#000"/>
<rect x="856.00" y="451.20" width="7.2" height="7.2" fill="#000"/>
<rect x="873.40" y="448.40" width="7.2" height="7.2" fill="#000"/>
<rect x="890.80" y="452.40" width="7.2" height="7.2" fill="#000"/>
<rect x="908.00" y="453.60" width="7.2" height="7.2" fill="#000"/>
<rect x="925.00" y="454.60" width="7.2" height="7.2" fill="#000"/>
<rect x="941.90" y="456.40" width="7.2" height="7.2" fill="#000"/>
<rect x="959.40" y="458.40" width="7.2" height="7.2" fill="#000"/>
<rect x="976.40" y="462.80" width="7.2" height="7.2" fill="#000"/>
<rect x="993.80" y="463.80" width="7.2" height="7.2" fill="#000"/>
<rect x="1010.40" y="464.60" width="7.2" height="7.2" fill="#000"/>
<rect x="1027.40" y="464.60" width="7.2" height="7.2" fill="#000"/>
<rect x="1044.40" y="464.60" width="7.2" height="7.2" fill="#000"/>
<rect x="1062.00" y="464.60" width="7.2" height="7.2" fill="#000"/>
<rect x="1078.80" y="462.40" width="7.2" height="7.2" fill="#000"/>
<rect x="1095.80" y="461.60" width="7.2" height="7.2" fill="#000"/>
<rect x="1113.00" y="460.60" width="7.2" height="7.2" fill="#000"/>
<rect x="1130.00" y="456.40" width="7.2" height="7.2" fill="#000"/>
<rect x="1147.00" y="461.60" width="7.2" height="7.2" fill="#000"/>
<polyline points="724.2,463.3 740.3,513 757.5,531.2 774.5,540 791.7,550.5 808.8,555 825.8,558 843,560.8 860,563.7 877.2,567.2 894.2,572" fill="none" stroke="#ee0000" stroke-width="1.1" stroke-linejoin="miter" stroke-miterlimit="10"/>
<circle cx="724.20" cy="463.30" r="3.9" fill="#ff0000"/>
<circle cx="740.30" cy="513.00" r="3.9" fill="#ff0000"/>
<circle cx="757.50" cy="531.20" r="3.9" fill="#ff0000"/>
<circle cx="774.50" cy="540.00" r="3.9" fill="#ff0000"/>
<circle cx="791.70" cy="550.50" r="3.9" fill="#ff0000"/>
<circle cx="808.80" cy="555.00" r="3.9" fill="#ff0000"/>
<circle cx="825.80" cy="558.00" r="3.9" fill="#ff0000"/>
<circle cx="843.00" cy="560.80" r="3.9" fill="#ff0000"/>
<circle cx="860.00" cy="563.70" r="3.9" fill="#ff0000"/>
<circle cx="877.20" cy="567.20" r="3.9" fill="#ff0000"/>
<circle cx="894.20" cy="572.00" r="3.9" fill="#ff0000"/>
<line x1="820.9" y1="659.2" x2="883.7" y2="659.2" stroke="#111" stroke-width="1.3" stroke-linecap="butt"/>
<rect x="849.30" y="655.70" width="7" height="7" fill="#000"/>
<line x1="820.9" y1="703.4" x2="883.7" y2="703.4" stroke="#ee0000" stroke-width="1.2" stroke-linecap="butt"/>
<circle cx="852.80" cy="703.40" r="4.15" fill="#ff0000"/>
<text x="890.5" y="667.2" font-size="26" font-family='"Liberation Serif", serif' font-weight="bold" text-anchor="start" fill="#000" textLength="61" lengthAdjust="spacing" >MnO</text>
<text x="953.3" y="679.8" font-size="14.5" font-family='"Liberation Serif", serif' font-weight="bold" text-anchor="start" fill="#000" >2</text>
<text x="961.5" y="667.2" font-size="26" font-family='"Liberation Serif", serif' font-weight="bold" text-anchor="start" fill="#000" textLength="186.5" lengthAdjust="spacing" >@NPG/Ni foam</text>
<text x="890.5" y="711.5" font-size="26" font-family='"Liberation Serif", serif' font-weight="bold" text-anchor="start" fill="#000" textLength="61" lengthAdjust="spacing" >MnO</text>
<text x="953.3" y="724.1" font-size="14.5" font-family='"Liberation Serif", serif' font-weight="bold" text-anchor="start" fill="#000" >2</text>
<text x="961.5" y="711.5" font-size="26" font-family='"Liberation Serif", serif' font-weight="bold" text-anchor="start" fill="#000" textLength="101.5" lengthAdjust="spacing" >/Ni foam</text>
<text x="0" y="0" font-size="46" font-family='"Liberation Sans", sans-serif' fill="#c8c8c8" stroke="#c8c8c8" stroke-width="0.7" transform="translate(36.099999999999994,30.6) scale(0.8,1)">a</text>
<text x="0" y="0" font-size="46" font-family='"Liberation Sans", sans-serif' fill="#000" stroke="#000" stroke-width="0.7" transform="translate(34.8,29.3) scale(0.8,1)">a</text>
<text x="0" y="0" font-size="47.5" font-family='"Liberation Sans", sans-serif' fill="#c8c8c8" stroke="#c8c8c8" stroke-width="0.4" transform="translate(624.3,39.8) scale(1.0,1)">b</text>
<text x="0" y="0" font-size="47.5" font-family='"Liberation Sans", sans-serif' fill="#000" stroke="#000" stroke-width="0.4" transform="translate(623,38.5) scale(1.0,1)">b</text>
<text x="0" y="0" font-size="46" font-family='"Liberation Sans", sans-serif' fill="#c8c8c8" stroke="#c8c8c8" stroke-width="0.9" transform="translate(36.3,468.1) scale(0.88,1)">c</text>
<text x="0" y="0" font-size="46" font-family='"Liberation Sans", sans-serif' fill="#000" stroke="#000" stroke-width="0.9" transform="translate(35,466.8) scale(0.88,1)">c</text>
<text x="0" y="0" font-size="47.5" font-family='"Liberation Sans", sans-serif' fill="#c8c8c8" stroke="#c8c8c8" stroke-width="0.4" transform="translate(623.8,472.3) scale(0.97,1)">d</text>
<text x="0" y="0" font-size="47.5" font-family='"Liberation Sans", sans-serif' fill="#000" stroke="#000" stroke-width="0.4" transform="translate(622.5,471) scale(0.97,1)">d</text>
</svg>
</body></html>
